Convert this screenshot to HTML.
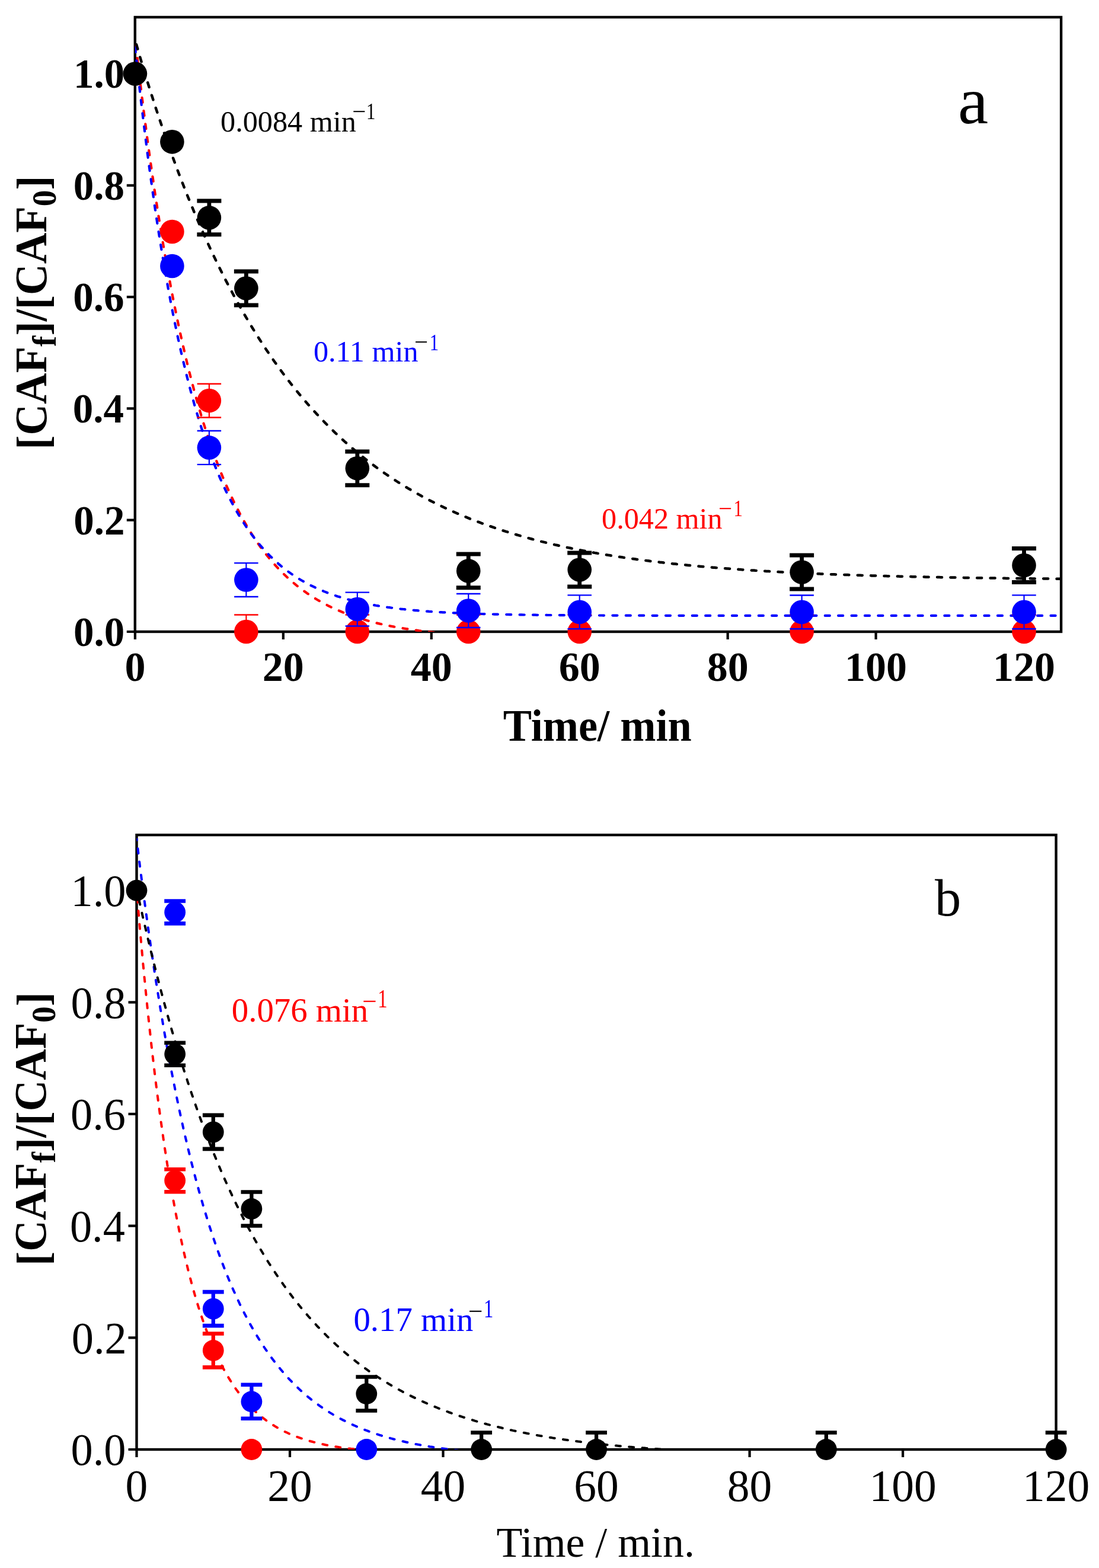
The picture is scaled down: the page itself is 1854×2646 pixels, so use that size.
<!DOCTYPE html>
<html><head><meta charset="utf-8"><title>CAF degradation kinetics</title><style>html,body{margin:0;padding:0;background:#fff;width:1854px;height:2646px;overflow:hidden}svg{display:block}</style></head><body>
<svg width="1854" height="2646" viewBox="0 0 1854 2646">
<defs><clipPath id="ca"><rect x="227.8" y="29.0" width="1562.3" height="1037.0"/></clipPath><clipPath id="cb"><rect x="230.5" y="1409.0" width="1551.1" height="1037.0"/></clipPath></defs>
<rect width="1854" height="2646" fill="#fff"/>
<rect x="227.8" y="29.0" width="1562.30" height="1037.00" fill="none" stroke="#000" stroke-width="4.4"/>
<path d="M213.80 1066.00H227.80M213.80 877.70H227.80M213.80 689.40H227.80M213.80 501.10H227.80M213.80 312.80H227.80M213.80 124.50H227.80M227.90 1066.00V1079.00M477.84 1066.00V1079.00M727.78 1066.00V1079.00M977.72 1066.00V1079.00M1227.66 1066.00V1079.00M1477.60 1066.00V1079.00M1727.54 1066.00V1079.00" stroke="#000" stroke-width="4.2" fill="none"/>
<polyline points="227.9,64.9 230.0,83.4 232.1,101.6 234.2,119.5 236.2,137.0 238.3,154.2 240.4,171.1 242.5,187.7 244.6,204.0 246.7,220.0 248.7,235.7 250.8,251.1 252.9,266.2 255.0,281.1 257.1,295.7 259.2,310.0 261.2,324.0 263.3,337.8 265.4,351.4 267.5,364.7 269.6,377.7 271.7,390.5 273.8,403.1 275.8,415.5 277.9,427.6 280.0,439.5 282.1,451.2 284.2,462.6 286.3,473.9 288.3,485.0 290.4,495.8 292.5,506.5 294.6,516.9 296.7,527.2 298.8,537.3 300.8,547.2 302.9,556.9 305.0,566.4 307.1,575.8 309.2,585.0 311.3,594.0 313.4,602.9 315.4,611.6 317.5,620.1 319.6,628.5 321.7,636.7 323.8,644.8 325.9,652.8 327.9,660.5 330.0,668.2 332.1,675.7 334.2,683.1 336.3,690.3 338.4,697.4 340.4,704.4 342.5,711.2 344.6,717.9 346.7,724.5 348.8,731.0 350.9,737.4 353.0,743.6 355.0,749.7 357.1,755.7 359.2,761.7 361.3,767.4 363.4,773.1 365.5,778.7 367.5,784.2 369.6,789.6 371.7,794.9 373.8,800.1 375.9,805.2 378.0,810.2 380.0,815.1 382.1,819.9 384.2,824.6 386.3,829.3 388.4,833.8 390.5,838.3 392.6,842.7 394.6,847.0 396.7,851.3 398.8,855.4 400.9,859.5 403.0,863.5 405.1,867.5 407.1,871.3 409.2,875.1 411.3,878.8 413.4,882.5 415.5,886.1 417.6,889.6 419.6,893.1 421.7,896.5 423.8,899.8 425.9,903.1 428.0,906.3 430.1,909.4 432.2,912.5 434.2,915.6 436.3,918.6 438.4,921.5 440.5,924.4 442.6,927.2 444.7,930.0 446.7,932.7 448.8,935.3 450.9,938.0 453.0,940.5 455.1,943.1 457.2,945.6 459.2,948.0 461.3,950.4 463.4,952.7 465.5,955.0 467.6,957.3 469.7,959.5 471.8,961.7 473.8,963.8 475.9,965.9 478.0,968.0 480.1,970.0 482.2,972.0 484.3,974.0 486.3,975.9 488.4,977.8 490.5,979.6 492.6,981.4 494.7,983.2 496.8,985.0 498.8,986.7 500.9,988.4 503.0,990.0 505.1,991.6 507.2,993.2 509.3,994.8 511.4,996.3 513.4,997.8 515.5,999.3 517.6,1000.8 519.7,1002.2 521.8,1003.6 523.9,1005.0 525.9,1006.3 528.0,1007.7 530.1,1009.0 532.2,1010.2 534.3,1011.5 536.4,1012.7 538.4,1013.9 540.5,1015.1 542.6,1016.3 544.7,1017.4 546.8,1018.5 548.9,1019.6 551.0,1020.7 553.0,1021.8 555.1,1022.8 557.2,1023.9 559.3,1024.9 561.4,1025.9 563.5,1026.8 565.5,1027.8 567.6,1028.7 569.7,1029.6 571.8,1030.5 573.9,1031.4 576.0,1032.3 578.0,1033.1 580.1,1034.0 582.2,1034.8 584.3,1035.6 586.4,1036.4 588.5,1037.2 590.6,1037.9 592.6,1038.7 594.7,1039.4 596.8,1040.1 598.9,1040.8 601.0,1041.5 603.1,1042.2 605.1,1042.9 607.2,1043.5 609.3,1044.2 611.4,1044.8 613.5,1045.4 615.6,1046.0 617.6,1046.6 619.7,1047.2 621.8,1047.8 623.9,1048.4 626.0,1048.9 628.1,1049.5 630.2,1050.0 632.2,1050.5 634.3,1051.1 636.4,1051.6 638.5,1052.1 640.6,1052.6 642.7,1053.0 644.7,1053.5 646.8,1054.0 648.9,1054.4 651.0,1054.9 653.1,1055.3 655.2,1055.7 657.2,1056.2 659.3,1056.6 661.4,1057.0 663.5,1057.4 665.6,1057.8 667.7,1058.2 669.8,1058.5 671.8,1058.9 673.9,1059.3 676.0,1059.6 678.1,1060.0 680.2,1060.3 682.3,1060.7 684.3,1061.0 686.4,1061.3 688.5,1061.6 690.6,1062.0 692.7,1062.3 694.8,1062.6 696.9,1062.9 698.9,1063.2 701.0,1063.5 703.1,1063.7 705.2,1064.0 707.3,1064.3 709.4,1064.5 711.4,1064.8 713.5,1065.1 715.6,1065.3 717.7,1065.6 719.8,1065.8 721.9,1066.0 723.9,1066.3 726.0,1066.5 728.1,1066.7 730.2,1067.0 732.3,1067.2 734.4,1067.4 736.5,1067.6 738.5,1067.8 740.6,1068.0 742.7,1068.2 744.8,1068.4 746.9,1068.6 749.0,1068.8 751.0,1069.0 753.1,1069.1 755.2,1069.3 757.3,1069.5 759.4,1069.7 761.5,1069.8 763.5,1070.0 765.6,1070.2 767.7,1070.3 769.8,1070.5 771.9,1070.6 774.0,1070.8 776.1,1070.9 778.1,1071.1 780.2,1071.2 782.3,1071.4 784.4,1071.5 786.5,1071.6 788.6,1071.8 790.6,1071.9 792.7,1072.0 794.8,1072.1 796.9,1072.3 799.0,1072.4 801.1,1072.5 803.1,1072.6 805.2,1072.7 807.3,1072.8 809.4,1072.9 811.5,1073.1 813.6,1073.2 815.7,1073.3 817.7,1073.4 819.8,1073.5 821.9,1073.6 824.0,1073.7 826.1,1073.8 828.2,1073.9 830.2,1073.9 832.3,1074.0 834.4,1074.1 836.5,1074.2 838.6,1074.3 840.7,1074.4 842.7,1074.5 844.8,1074.5 846.9,1074.6 849.0,1074.7 851.1,1074.8 853.2,1074.8 855.3,1074.9 857.3,1075.0 859.4,1075.1 861.5,1075.1 863.6,1075.2 865.7,1075.3 867.8,1075.3 869.8,1075.4 871.9,1075.5 874.0,1075.5 876.1,1075.6 878.2,1075.6 880.3,1075.7 882.3,1075.8 884.4,1075.8 886.5,1075.9 888.6,1075.9 890.7,1076.0 892.8,1076.0 894.9,1076.1 896.9,1076.1 899.0,1076.2 901.1,1076.2 903.2,1076.3 905.3,1076.3 907.4,1076.4 909.4,1076.4 911.5,1076.5 913.6,1076.5 915.7,1076.5 917.8,1076.6 919.9,1076.6 921.9,1076.7 924.0,1076.7 926.1,1076.8 928.2,1076.8 930.3,1076.8 932.4,1076.9 934.5,1076.9 936.5,1076.9 938.6,1077.0 940.7,1077.0 942.8,1077.0 944.9,1077.1 947.0,1077.1 949.0,1077.1 951.1,1077.2 953.2,1077.2 955.3,1077.2 957.4,1077.3 959.5,1077.3 961.5,1077.3 963.6,1077.3 965.7,1077.4 967.8,1077.4 969.9,1077.4 972.0,1077.5 974.1,1077.5 976.1,1077.5 978.2,1077.5 980.3,1077.6 982.4,1077.6 984.5,1077.6 986.6,1077.6 988.6,1077.6 990.7,1077.7 992.8,1077.7 994.9,1077.7 997.0,1077.7 999.1,1077.7 1001.1,1077.8 1003.2,1077.8 1005.3,1077.8 1007.4,1077.8 1009.5,1077.8 1011.6,1077.9 1013.7,1077.9 1015.7,1077.9 1017.8,1077.9 1019.9,1077.9 1022.0,1078.0 1024.1,1078.0 1026.2,1078.0 1028.2,1078.0 1030.3,1078.0 1032.4,1078.0 1034.5,1078.0 1036.6,1078.1 1038.7,1078.1 1040.7,1078.1 1042.8,1078.1 1044.9,1078.1 1047.0,1078.1 1049.1,1078.1 1051.2,1078.2 1053.3,1078.2 1055.3,1078.2 1057.4,1078.2 1059.5,1078.2 1061.6,1078.2 1063.7,1078.2 1065.8,1078.2 1067.8,1078.3 1069.9,1078.3 1072.0,1078.3 1074.1,1078.3 1076.2,1078.3 1078.3,1078.3 1080.3,1078.3 1082.4,1078.3 1084.5,1078.3 1086.6,1078.3 1088.7,1078.4 1090.8,1078.4 1092.9,1078.4 1094.9,1078.4 1097.0,1078.4 1099.1,1078.4 1101.2,1078.4 1103.3,1078.4 1105.4,1078.4 1107.4,1078.4 1109.5,1078.4 1111.6,1078.4 1113.7,1078.5 1115.8,1078.5 1117.9,1078.5 1119.9,1078.5 1122.0,1078.5 1124.1,1078.5 1126.2,1078.5 1128.3,1078.5 1130.4,1078.5 1132.5,1078.5 1134.5,1078.5 1136.6,1078.5 1138.7,1078.5 1140.8,1078.5 1142.9,1078.5 1145.0,1078.5 1147.0,1078.6 1149.1,1078.6 1151.2,1078.6 1153.3,1078.6 1155.4,1078.6 1157.5,1078.6 1159.5,1078.6 1161.6,1078.6 1163.7,1078.6 1165.8,1078.6 1167.9,1078.6 1170.0,1078.6 1172.1,1078.6 1174.1,1078.6 1176.2,1078.6 1178.3,1078.6 1180.4,1078.6 1182.5,1078.6 1184.6,1078.6 1186.6,1078.6 1188.7,1078.6 1190.8,1078.6 1192.9,1078.7 1195.0,1078.7 1197.1,1078.7 1199.1,1078.7 1201.2,1078.7 1203.3,1078.7 1205.4,1078.7 1207.5,1078.7 1209.6,1078.7 1211.7,1078.7 1213.7,1078.7 1215.8,1078.7 1217.9,1078.7 1220.0,1078.7 1222.1,1078.7 1224.2,1078.7 1226.2,1078.7 1228.3,1078.7 1230.4,1078.7 1232.5,1078.7 1234.6,1078.7 1236.7,1078.7 1238.7,1078.7 1240.8,1078.7 1242.9,1078.7 1245.0,1078.7 1247.1,1078.7 1249.2,1078.7 1251.3,1078.7 1253.3,1078.7 1255.4,1078.7 1257.5,1078.7 1259.6,1078.7 1261.7,1078.7 1263.8,1078.7 1265.8,1078.7 1267.9,1078.7 1270.0,1078.8 1272.1,1078.8 1274.2,1078.8 1276.3,1078.8 1278.3,1078.8 1280.4,1078.8 1282.5,1078.8 1284.6,1078.8 1286.7,1078.8 1288.8,1078.8 1290.9,1078.8 1292.9,1078.8 1295.0,1078.8 1297.1,1078.8 1299.2,1078.8 1301.3,1078.8 1303.4,1078.8 1305.4,1078.8 1307.5,1078.8 1309.6,1078.8 1311.7,1078.8 1313.8,1078.8 1315.9,1078.8 1317.9,1078.8 1320.0,1078.8 1322.1,1078.8 1324.2,1078.8 1326.3,1078.8 1328.4,1078.8 1330.5,1078.8 1332.5,1078.8 1334.6,1078.8 1336.7,1078.8 1338.8,1078.8 1340.9,1078.8 1343.0,1078.8 1345.0,1078.8 1347.1,1078.8 1349.2,1078.8 1351.3,1078.8 1353.4,1078.8 1355.5,1078.8 1357.5,1078.8 1359.6,1078.8 1361.7,1078.8 1363.8,1078.8 1365.9,1078.8 1368.0,1078.8 1370.1,1078.8 1372.1,1078.8 1374.2,1078.8 1376.3,1078.8 1378.4,1078.8 1380.5,1078.8 1382.6,1078.8 1384.6,1078.8 1386.7,1078.8 1388.8,1078.8 1390.9,1078.8 1393.0,1078.8 1395.1,1078.8 1397.1,1078.8 1399.2,1078.8 1401.3,1078.8 1403.4,1078.8 1405.5,1078.8 1407.6,1078.8 1409.7,1078.8 1411.7,1078.8 1413.8,1078.8 1415.9,1078.8 1418.0,1078.8 1420.1,1078.8 1422.2,1078.8 1424.2,1078.8 1426.3,1078.8 1428.4,1078.8 1430.5,1078.8 1432.6,1078.8 1434.7,1078.8 1436.7,1078.8 1438.8,1078.8 1440.9,1078.8 1443.0,1078.8 1445.1,1078.8 1447.2,1078.8 1449.3,1078.8 1451.3,1078.8 1453.4,1078.8 1455.5,1078.8 1457.6,1078.8 1459.7,1078.8 1461.8,1078.8 1463.8,1078.8 1465.9,1078.8 1468.0,1078.8 1470.1,1078.8 1472.2,1078.8 1474.3,1078.8 1476.3,1078.8 1478.4,1078.8 1480.5,1078.8 1482.6,1078.8 1484.7,1078.8 1486.8,1078.8 1488.9,1078.8 1490.9,1078.8 1493.0,1078.8 1495.1,1078.8 1497.2,1078.8 1499.3,1078.8 1501.4,1078.8 1503.4,1078.8 1505.5,1078.8 1507.6,1078.8 1509.7,1078.8 1511.8,1078.8 1513.9,1078.8 1515.9,1078.8 1518.0,1078.8 1520.1,1078.8 1522.2,1078.8 1524.3,1078.8 1526.4,1078.8 1528.5,1078.8 1530.5,1078.8 1532.6,1078.8 1534.7,1078.8 1536.8,1078.8 1538.9,1078.8 1541.0,1078.8 1543.0,1078.8 1545.1,1078.8 1547.2,1078.8 1549.3,1078.8 1551.4,1078.8 1553.5,1078.8 1555.5,1078.8 1557.6,1078.8 1559.7,1078.8 1561.8,1078.8 1563.9,1078.8 1566.0,1078.8 1568.1,1078.8 1570.1,1078.8 1572.2,1078.8 1574.3,1078.8 1576.4,1078.8 1578.5,1078.8 1580.6,1078.8 1582.6,1078.8 1584.7,1078.8 1586.8,1078.8 1588.9,1078.8 1591.0,1078.8 1593.1,1078.8 1595.2,1078.8 1597.2,1078.8 1599.3,1078.8 1601.4,1078.8 1603.5,1078.8 1605.6,1078.8 1607.7,1078.8 1609.7,1078.8 1611.8,1078.8 1613.9,1078.8 1616.0,1078.8 1618.1,1078.8 1620.2,1078.8 1622.2,1078.8 1624.3,1078.8 1626.4,1078.8 1628.5,1078.8 1630.6,1078.8 1632.7,1078.8 1634.8,1078.8 1636.8,1078.8 1638.9,1078.8 1641.0,1078.8 1643.1,1078.8 1645.2,1078.8 1647.3,1078.8 1649.3,1078.8 1651.4,1078.8 1653.5,1078.8 1655.6,1078.8 1657.7,1078.8 1659.8,1078.8 1661.8,1078.8 1663.9,1078.8 1666.0,1078.8 1668.1,1078.8 1670.2,1078.8 1672.3,1078.8 1674.4,1078.8 1676.4,1078.8 1678.5,1078.8 1680.6,1078.8 1682.7,1078.8 1684.8,1078.8 1686.9,1078.8 1688.9,1078.8 1691.0,1078.8 1693.1,1078.8 1695.2,1078.8 1697.3,1078.8 1699.4,1078.8 1701.4,1078.8 1703.5,1078.8 1705.6,1078.8 1707.7,1078.8 1709.8,1078.8 1711.9,1078.8 1714.0,1078.8 1716.0,1078.8 1718.1,1078.8 1720.2,1078.8 1722.3,1078.8 1724.4,1078.8 1726.5,1078.8 1728.5,1078.8 1730.6,1078.8 1732.7,1078.8 1734.8,1078.8 1736.9,1078.8 1739.0,1078.8 1741.0,1078.8 1743.1,1078.8 1745.2,1078.8 1747.3,1078.9 1749.4,1078.9 1751.5,1078.9 1753.6,1078.9 1755.6,1078.9 1757.7,1078.9 1759.8,1078.9 1761.9,1078.9 1764.0,1078.9 1766.1,1078.9 1768.1,1078.9 1770.2,1078.9 1772.3,1078.9 1774.4,1078.9 1776.5,1078.9 1778.6,1078.9 1780.6,1078.9 1782.7,1078.9 1784.8,1078.9 1786.9,1078.9 1789.0,1078.9" fill="none" stroke="#ff0000" stroke-width="4.2" stroke-dasharray="8 14.4" stroke-dashoffset="11.30" stroke-linecap="round" clip-path="url(#ca)"/>
<polyline points="227.9,79.7 230.0,99.3 232.1,118.4 234.2,137.2 236.2,155.6 238.3,173.7 240.4,191.3 242.5,208.6 244.6,225.6 246.7,242.2 248.7,258.5 250.8,274.4 252.9,290.0 255.0,305.3 257.1,320.3 259.2,334.9 261.2,349.3 263.3,363.4 265.4,377.2 267.5,390.7 269.6,403.9 271.7,416.9 273.8,429.6 275.8,442.0 277.9,454.2 280.0,466.1 282.1,477.8 284.2,489.3 286.3,500.5 288.3,511.5 290.4,522.3 292.5,532.8 294.6,543.2 296.7,553.3 298.8,563.2 300.8,572.9 302.9,582.4 305.0,591.7 307.1,600.9 309.2,609.8 311.3,618.6 313.4,627.2 315.4,635.6 317.5,643.8 319.6,651.9 321.7,659.8 323.8,667.5 325.9,675.1 327.9,682.5 330.0,689.8 332.1,696.9 334.2,703.9 336.3,710.7 338.4,717.4 340.4,724.0 342.5,730.4 344.6,736.7 346.7,742.9 348.8,748.9 350.9,754.9 353.0,760.7 355.0,766.3 357.1,771.9 359.2,777.4 361.3,782.7 363.4,787.9 365.5,793.1 367.5,798.1 369.6,803.0 371.7,807.8 373.8,812.5 375.9,817.1 378.0,821.7 380.0,826.1 382.1,830.5 384.2,834.7 386.3,838.9 388.4,843.0 390.5,847.0 392.6,850.9 394.6,854.7 396.7,858.5 398.8,862.2 400.9,865.8 403.0,869.3 405.1,872.8 407.1,876.2 409.2,879.5 411.3,882.7 413.4,885.9 415.5,889.1 417.6,892.1 419.6,895.1 421.7,898.0 423.8,900.9 425.9,903.7 428.0,906.5 430.1,909.2 432.2,911.9 434.2,914.4 436.3,917.0 438.4,919.5 440.5,921.9 442.6,924.3 444.7,926.6 446.7,928.9 448.8,931.2 450.9,933.4 453.0,935.5 455.1,937.7 457.2,939.7 459.2,941.7 461.3,943.7 463.4,945.7 465.5,947.6 467.6,949.4 469.7,951.3 471.8,953.1 473.8,954.8 475.9,956.5 478.0,958.2 480.1,959.9 482.2,961.5 484.3,963.1 486.3,964.6 488.4,966.1 490.5,967.6 492.6,969.1 494.7,970.5 496.8,971.9 498.8,973.3 500.9,974.6 503.0,975.9 505.1,977.2 507.2,978.5 509.3,979.7 511.4,980.9 513.4,982.1 515.5,983.2 517.6,984.4 519.7,985.5 521.8,986.6 523.9,987.7 525.9,988.7 528.0,989.7 530.1,990.7 532.2,991.7 534.3,992.7 536.4,993.6 538.4,994.6 540.5,995.5 542.6,996.3 544.7,997.2 546.8,998.1 548.9,998.9 551.0,999.7 553.0,1000.5 555.1,1001.3 557.2,1002.1 559.3,1002.8 561.4,1003.6 563.5,1004.3 565.5,1005.0 567.6,1005.7 569.7,1006.4 571.8,1007.0 573.9,1007.7 576.0,1008.3 578.0,1008.9 580.1,1009.6 582.2,1010.2 584.3,1010.7 586.4,1011.3 588.5,1011.9 590.6,1012.4 592.6,1013.0 594.7,1013.5 596.8,1014.0 598.9,1014.5 601.0,1015.0 603.1,1015.5 605.1,1016.0 607.2,1016.5 609.3,1016.9 611.4,1017.4 613.5,1017.8 615.6,1018.2 617.6,1018.7 619.7,1019.1 621.8,1019.5 623.9,1019.9 626.0,1020.3 628.1,1020.7 630.2,1021.0 632.2,1021.4 634.3,1021.8 636.4,1022.1 638.5,1022.4 640.6,1022.8 642.7,1023.1 644.7,1023.4 646.8,1023.8 648.9,1024.1 651.0,1024.4 653.1,1024.7 655.2,1025.0 657.2,1025.2 659.3,1025.5 661.4,1025.8 663.5,1026.1 665.6,1026.3 667.7,1026.6 669.8,1026.8 671.8,1027.1 673.9,1027.3 676.0,1027.6 678.1,1027.8 680.2,1028.0 682.3,1028.2 684.3,1028.5 686.4,1028.7 688.5,1028.9 690.6,1029.1 692.7,1029.3 694.8,1029.5 696.9,1029.7 698.9,1029.9 701.0,1030.1 703.1,1030.2 705.2,1030.4 707.3,1030.6 709.4,1030.8 711.4,1030.9 713.5,1031.1 715.6,1031.3 717.7,1031.4 719.8,1031.6 721.9,1031.7 723.9,1031.9 726.0,1032.0 728.1,1032.1 730.2,1032.3 732.3,1032.4 734.4,1032.6 736.5,1032.7 738.5,1032.8 740.6,1032.9 742.7,1033.1 744.8,1033.2 746.9,1033.3 749.0,1033.4 751.0,1033.5 753.1,1033.6 755.2,1033.7 757.3,1033.9 759.4,1034.0 761.5,1034.1 763.5,1034.2 765.6,1034.3 767.7,1034.3 769.8,1034.4 771.9,1034.5 774.0,1034.6 776.1,1034.7 778.1,1034.8 780.2,1034.9 782.3,1035.0 784.4,1035.0 786.5,1035.1 788.6,1035.2 790.6,1035.3 792.7,1035.4 794.8,1035.4 796.9,1035.5 799.0,1035.6 801.1,1035.6 803.1,1035.7 805.2,1035.8 807.3,1035.8 809.4,1035.9 811.5,1036.0 813.6,1036.0 815.7,1036.1 817.7,1036.1 819.8,1036.2 821.9,1036.3 824.0,1036.3 826.1,1036.4 828.2,1036.4 830.2,1036.5 832.3,1036.5 834.4,1036.6 836.5,1036.6 838.6,1036.7 840.7,1036.7 842.7,1036.8 844.8,1036.8 846.9,1036.8 849.0,1036.9 851.1,1036.9 853.2,1037.0 855.3,1037.0 857.3,1037.0 859.4,1037.1 861.5,1037.1 863.6,1037.2 865.7,1037.2 867.8,1037.2 869.8,1037.3 871.9,1037.3 874.0,1037.3 876.1,1037.4 878.2,1037.4 880.3,1037.4 882.3,1037.5 884.4,1037.5 886.5,1037.5 888.6,1037.6 890.7,1037.6 892.8,1037.6 894.9,1037.6 896.9,1037.7 899.0,1037.7 901.1,1037.7 903.2,1037.7 905.3,1037.8 907.4,1037.8 909.4,1037.8 911.5,1037.8 913.6,1037.9 915.7,1037.9 917.8,1037.9 919.9,1037.9 921.9,1037.9 924.0,1038.0 926.1,1038.0 928.2,1038.0 930.3,1038.0 932.4,1038.0 934.5,1038.1 936.5,1038.1 938.6,1038.1 940.7,1038.1 942.8,1038.1 944.9,1038.1 947.0,1038.2 949.0,1038.2 951.1,1038.2 953.2,1038.2 955.3,1038.2 957.4,1038.2 959.5,1038.3 961.5,1038.3 963.6,1038.3 965.7,1038.3 967.8,1038.3 969.9,1038.3 972.0,1038.3 974.1,1038.3 976.1,1038.4 978.2,1038.4 980.3,1038.4 982.4,1038.4 984.5,1038.4 986.6,1038.4 988.6,1038.4 990.7,1038.4 992.8,1038.4 994.9,1038.5 997.0,1038.5 999.1,1038.5 1001.1,1038.5 1003.2,1038.5 1005.3,1038.5 1007.4,1038.5 1009.5,1038.5 1011.6,1038.5 1013.7,1038.5 1015.7,1038.5 1017.8,1038.6 1019.9,1038.6 1022.0,1038.6 1024.1,1038.6 1026.2,1038.6 1028.2,1038.6 1030.3,1038.6 1032.4,1038.6 1034.5,1038.6 1036.6,1038.6 1038.7,1038.6 1040.7,1038.6 1042.8,1038.6 1044.9,1038.6 1047.0,1038.7 1049.1,1038.7 1051.2,1038.7 1053.3,1038.7 1055.3,1038.7 1057.4,1038.7 1059.5,1038.7 1061.6,1038.7 1063.7,1038.7 1065.8,1038.7 1067.8,1038.7 1069.9,1038.7 1072.0,1038.7 1074.1,1038.7 1076.2,1038.7 1078.3,1038.7 1080.3,1038.7 1082.4,1038.7 1084.5,1038.7 1086.6,1038.7 1088.7,1038.7 1090.8,1038.8 1092.9,1038.8 1094.9,1038.8 1097.0,1038.8 1099.1,1038.8 1101.2,1038.8 1103.3,1038.8 1105.4,1038.8 1107.4,1038.8 1109.5,1038.8 1111.6,1038.8 1113.7,1038.8 1115.8,1038.8 1117.9,1038.8 1119.9,1038.8 1122.0,1038.8 1124.1,1038.8 1126.2,1038.8 1128.3,1038.8 1130.4,1038.8 1132.5,1038.8 1134.5,1038.8 1136.6,1038.8 1138.7,1038.8 1140.8,1038.8 1142.9,1038.8 1145.0,1038.8 1147.0,1038.8 1149.1,1038.8 1151.2,1038.8 1153.3,1038.8 1155.4,1038.8 1157.5,1038.8 1159.5,1038.8 1161.6,1038.8 1163.7,1038.9 1165.8,1038.9 1167.9,1038.9 1170.0,1038.9 1172.1,1038.9 1174.1,1038.9 1176.2,1038.9 1178.3,1038.9 1180.4,1038.9 1182.5,1038.9 1184.6,1038.9 1186.6,1038.9 1188.7,1038.9 1190.8,1038.9 1192.9,1038.9 1195.0,1038.9 1197.1,1038.9 1199.1,1038.9 1201.2,1038.9 1203.3,1038.9 1205.4,1038.9 1207.5,1038.9 1209.6,1038.9 1211.7,1038.9 1213.7,1038.9 1215.8,1038.9 1217.9,1038.9 1220.0,1038.9 1222.1,1038.9 1224.2,1038.9 1226.2,1038.9 1228.3,1038.9 1230.4,1038.9 1232.5,1038.9 1234.6,1038.9 1236.7,1038.9 1238.7,1038.9 1240.8,1038.9 1242.9,1038.9 1245.0,1038.9 1247.1,1038.9 1249.2,1038.9 1251.3,1038.9 1253.3,1038.9 1255.4,1038.9 1257.5,1038.9 1259.6,1038.9 1261.7,1038.9 1263.8,1038.9 1265.8,1038.9 1267.9,1038.9 1270.0,1038.9 1272.1,1038.9 1274.2,1038.9 1276.3,1038.9 1278.3,1038.9 1280.4,1038.9 1282.5,1038.9 1284.6,1038.9 1286.7,1038.9 1288.8,1038.9 1290.9,1038.9 1292.9,1038.9 1295.0,1038.9 1297.1,1038.9 1299.2,1038.9 1301.3,1038.9 1303.4,1038.9 1305.4,1038.9 1307.5,1038.9 1309.6,1038.9 1311.7,1038.9 1313.8,1038.9 1315.9,1038.9 1317.9,1038.9 1320.0,1038.9 1322.1,1038.9 1324.2,1038.9 1326.3,1038.9 1328.4,1038.9 1330.5,1038.9 1332.5,1038.9 1334.6,1038.9 1336.7,1038.9 1338.8,1038.9 1340.9,1038.9 1343.0,1038.9 1345.0,1038.9 1347.1,1038.9 1349.2,1038.9 1351.3,1038.9 1353.4,1038.9 1355.5,1038.9 1357.5,1038.9 1359.6,1038.9 1361.7,1038.9 1363.8,1038.9 1365.9,1038.9 1368.0,1038.9 1370.1,1038.9 1372.1,1038.9 1374.2,1038.9 1376.3,1038.9 1378.4,1038.9 1380.5,1038.9 1382.6,1038.9 1384.6,1038.9 1386.7,1038.9 1388.8,1038.9 1390.9,1038.9 1393.0,1038.9 1395.1,1038.9 1397.1,1038.9 1399.2,1038.9 1401.3,1038.9 1403.4,1038.9 1405.5,1038.9 1407.6,1038.9 1409.7,1038.9 1411.7,1038.9 1413.8,1038.9 1415.9,1038.9 1418.0,1038.9 1420.1,1038.9 1422.2,1038.9 1424.2,1038.9 1426.3,1038.9 1428.4,1038.9 1430.5,1038.9 1432.6,1038.9 1434.7,1038.9 1436.7,1038.9 1438.8,1038.9 1440.9,1038.9 1443.0,1038.9 1445.1,1038.9 1447.2,1038.9 1449.3,1038.9 1451.3,1038.9 1453.4,1038.9 1455.5,1038.9 1457.6,1038.9 1459.7,1038.9 1461.8,1038.9 1463.8,1038.9 1465.9,1038.9 1468.0,1038.9 1470.1,1038.9 1472.2,1038.9 1474.3,1038.9 1476.3,1038.9 1478.4,1038.9 1480.5,1038.9 1482.6,1038.9 1484.7,1038.9 1486.8,1038.9 1488.9,1038.9 1490.9,1038.9 1493.0,1038.9 1495.1,1038.9 1497.2,1038.9 1499.3,1038.9 1501.4,1038.9 1503.4,1038.9 1505.5,1038.9 1507.6,1038.9 1509.7,1038.9 1511.8,1038.9 1513.9,1038.9 1515.9,1038.9 1518.0,1038.9 1520.1,1038.9 1522.2,1038.9 1524.3,1038.9 1526.4,1038.9 1528.5,1038.9 1530.5,1038.9 1532.6,1038.9 1534.7,1038.9 1536.8,1038.9 1538.9,1038.9 1541.0,1038.9 1543.0,1038.9 1545.1,1038.9 1547.2,1038.9 1549.3,1038.9 1551.4,1038.9 1553.5,1038.9 1555.5,1038.9 1557.6,1038.9 1559.7,1038.9 1561.8,1038.9 1563.9,1038.9 1566.0,1038.9 1568.1,1038.9 1570.1,1038.9 1572.2,1038.9 1574.3,1038.9 1576.4,1038.9 1578.5,1038.9 1580.6,1038.9 1582.6,1038.9 1584.7,1038.9 1586.8,1038.9 1588.9,1038.9 1591.0,1038.9 1593.1,1038.9 1595.2,1038.9 1597.2,1038.9 1599.3,1038.9 1601.4,1038.9 1603.5,1038.9 1605.6,1038.9 1607.7,1038.9 1609.7,1038.9 1611.8,1038.9 1613.9,1038.9 1616.0,1038.9 1618.1,1038.9 1620.2,1038.9 1622.2,1038.9 1624.3,1038.9 1626.4,1038.9 1628.5,1038.9 1630.6,1038.9 1632.7,1038.9 1634.8,1038.9 1636.8,1038.9 1638.9,1038.9 1641.0,1038.9 1643.1,1038.9 1645.2,1038.9 1647.3,1038.9 1649.3,1038.9 1651.4,1038.9 1653.5,1038.9 1655.6,1038.9 1657.7,1038.9 1659.8,1038.9 1661.8,1038.9 1663.9,1038.9 1666.0,1038.9 1668.1,1038.9 1670.2,1038.9 1672.3,1038.9 1674.4,1038.9 1676.4,1038.9 1678.5,1038.9 1680.6,1038.9 1682.7,1038.9 1684.8,1038.9 1686.9,1038.9 1688.9,1038.9 1691.0,1038.9 1693.1,1038.9 1695.2,1038.9 1697.3,1038.9 1699.4,1038.9 1701.4,1038.9 1703.5,1038.9 1705.6,1038.9 1707.7,1038.9 1709.8,1038.9 1711.9,1038.9 1714.0,1038.9 1716.0,1038.9 1718.1,1038.9 1720.2,1038.9 1722.3,1038.9 1724.4,1038.9 1726.5,1038.9 1728.5,1038.9 1730.6,1038.9 1732.7,1038.9 1734.8,1038.9 1736.9,1038.9 1739.0,1038.9 1741.0,1038.9 1743.1,1038.9 1745.2,1038.9 1747.3,1038.9 1749.4,1038.9 1751.5,1038.9 1753.6,1038.9 1755.6,1038.9 1757.7,1038.9 1759.8,1038.9 1761.9,1038.9 1764.0,1038.9 1766.1,1038.9 1768.1,1038.9 1770.2,1038.9 1772.3,1038.9 1774.4,1038.9 1776.5,1038.9 1778.6,1038.9 1780.6,1038.9 1782.7,1038.9 1784.8,1038.9 1786.9,1038.9 1789.0,1038.9" fill="none" stroke="#0000ff" stroke-width="4.2" stroke-dasharray="8 14.4" stroke-dashoffset="22.09" stroke-linecap="round" clip-path="url(#ca)"/>
<polyline points="227.9,67.5 230.0,74.8 232.1,82.0 234.2,89.2 236.2,96.3 238.3,103.4 240.4,110.3 242.5,117.3 244.6,124.2 246.7,131.0 248.7,137.8 250.8,144.5 252.9,151.1 255.0,157.8 257.1,164.3 259.2,170.8 261.2,177.3 263.3,183.7 265.4,190.0 267.5,196.3 269.6,202.6 271.7,208.8 273.8,214.9 275.8,221.0 277.9,227.1 280.0,233.1 282.1,239.0 284.2,245.0 286.3,250.8 288.3,256.6 290.4,262.4 292.5,268.1 294.6,273.8 296.7,279.4 298.8,285.0 300.8,290.6 302.9,296.1 305.0,301.5 307.1,306.9 309.2,312.3 311.3,317.6 313.4,322.9 315.4,328.1 317.5,333.3 319.6,338.5 321.7,343.6 323.8,348.7 325.9,353.7 327.9,358.7 330.0,363.7 332.1,368.6 334.2,373.4 336.3,378.3 338.4,383.1 340.4,387.8 342.5,392.6 344.6,397.2 346.7,401.9 348.8,406.5 350.9,411.1 353.0,415.6 355.0,420.1 357.1,424.6 359.2,429.0 361.3,433.4 363.4,437.7 365.5,442.1 367.5,446.4 369.6,450.6 371.7,454.8 373.8,459.0 375.9,463.2 378.0,467.3 380.0,471.4 382.1,475.4 384.2,479.4 386.3,483.4 388.4,487.4 390.5,491.3 392.6,495.2 394.6,499.1 396.7,502.9 398.8,506.7 400.9,510.5 403.0,514.2 405.1,517.9 407.1,521.6 409.2,525.3 411.3,528.9 413.4,532.5 415.5,536.1 417.6,539.6 419.6,543.1 421.7,546.6 423.8,550.0 425.9,553.5 428.0,556.9 430.1,560.2 432.2,563.6 434.2,566.9 436.3,570.2 438.4,573.4 440.5,576.7 442.6,579.9 444.7,583.1 446.7,586.3 448.8,589.4 450.9,592.5 453.0,595.6 455.1,598.6 457.2,601.7 459.2,604.7 461.3,607.7 463.4,610.7 465.5,613.6 467.6,616.5 469.7,619.4 471.8,622.3 473.8,625.1 475.9,628.0 478.0,630.8 480.1,633.5 482.2,636.3 484.3,639.0 486.3,641.8 488.4,644.4 490.5,647.1 492.6,649.8 494.7,652.4 496.8,655.0 498.8,657.6 500.9,660.2 503.0,662.7 505.1,665.2 507.2,667.7 509.3,670.2 511.4,672.7 513.4,675.1 515.5,677.6 517.6,680.0 519.7,682.4 521.8,684.7 523.9,687.1 525.9,689.4 528.0,691.7 530.1,694.0 532.2,696.3 534.3,698.6 536.4,700.8 538.4,703.0 540.5,705.2 542.6,707.4 544.7,709.6 546.8,711.7 548.9,713.9 551.0,716.0 553.0,718.1 555.1,720.2 557.2,722.2 559.3,724.3 561.4,726.3 563.5,728.3 565.5,730.3 567.6,732.3 569.7,734.3 571.8,736.2 573.9,738.2 576.0,740.1 578.0,742.0 580.1,743.9 582.2,745.8 584.3,747.6 586.4,749.5 588.5,751.3 590.6,753.1 592.6,755.0 594.7,756.7 596.8,758.5 598.9,760.3 601.0,762.0 603.1,763.8 605.1,765.5 607.2,767.2 609.3,768.9 611.4,770.6 613.5,772.2 615.6,773.9 617.6,775.5 619.7,777.1 621.8,778.7 623.9,780.3 626.0,781.9 628.1,783.5 630.2,785.1 632.2,786.6 634.3,788.2 636.4,789.7 638.5,791.2 640.6,792.7 642.7,794.2 644.7,795.7 646.8,797.1 648.9,798.6 651.0,800.0 653.1,801.4 655.2,802.9 657.2,804.3 659.3,805.7 661.4,807.0 663.5,808.4 665.6,809.8 667.7,811.1 669.8,812.5 671.8,813.8 673.9,815.1 676.0,816.4 678.1,817.7 680.2,819.0 682.3,820.3 684.3,821.6 686.4,822.8 688.5,824.1 690.6,825.3 692.7,826.5 694.8,827.8 696.9,829.0 698.9,830.2 701.0,831.4 703.1,832.5 705.2,833.7 707.3,834.9 709.4,836.0 711.4,837.2 713.5,838.3 715.6,839.4 717.7,840.5 719.8,841.6 721.9,842.7 723.9,843.8 726.0,844.9 728.1,846.0 730.2,847.0 732.3,848.1 734.4,849.1 736.5,850.2 738.5,851.2 740.6,852.2 742.7,853.2 744.8,854.2 746.9,855.2 749.0,856.2 751.0,857.2 753.1,858.2 755.2,859.1 757.3,860.1 759.4,861.1 761.5,862.0 763.5,862.9 765.6,863.9 767.7,864.8 769.8,865.7 771.9,866.6 774.0,867.5 776.1,868.4 778.1,869.3 780.2,870.1 782.3,871.0 784.4,871.9 786.5,872.7 788.6,873.6 790.6,874.4 792.7,875.3 794.8,876.1 796.9,876.9 799.0,877.7 801.1,878.5 803.1,879.3 805.2,880.1 807.3,880.9 809.4,881.7 811.5,882.5 813.6,883.3 815.7,884.0 817.7,884.8 819.8,885.5 821.9,886.3 824.0,887.0 826.1,887.8 828.2,888.5 830.2,889.2 832.3,889.9 834.4,890.6 836.5,891.3 838.6,892.0 840.7,892.7 842.7,893.4 844.8,894.1 846.9,894.8 849.0,895.5 851.1,896.1 853.2,896.8 855.3,897.4 857.3,898.1 859.4,898.7 861.5,899.4 863.6,900.0 865.7,900.7 867.8,901.3 869.8,901.9 871.9,902.5 874.0,903.1 876.1,903.7 878.2,904.3 880.3,904.9 882.3,905.5 884.4,906.1 886.5,906.7 888.6,907.3 890.7,907.8 892.8,908.4 894.9,909.0 896.9,909.5 899.0,910.1 901.1,910.6 903.2,911.2 905.3,911.7 907.4,912.3 909.4,912.8 911.5,913.3 913.6,913.9 915.7,914.4 917.8,914.9 919.9,915.4 921.9,915.9 924.0,916.4 926.1,916.9 928.2,917.4 930.3,917.9 932.4,918.4 934.5,918.9 936.5,919.4 938.6,919.8 940.7,920.3 942.8,920.8 944.9,921.2 947.0,921.7 949.0,922.2 951.1,922.6 953.2,923.1 955.3,923.5 957.4,924.0 959.5,924.4 961.5,924.8 963.6,925.3 965.7,925.7 967.8,926.1 969.9,926.5 972.0,927.0 974.1,927.4 976.1,927.8 978.2,928.2 980.3,928.6 982.4,929.0 984.5,929.4 986.6,929.8 988.6,930.2 990.7,930.6 992.8,931.0 994.9,931.4 997.0,931.7 999.1,932.1 1001.1,932.5 1003.2,932.9 1005.3,933.2 1007.4,933.6 1009.5,934.0 1011.6,934.3 1013.7,934.7 1015.7,935.0 1017.8,935.4 1019.9,935.7 1022.0,936.1 1024.1,936.4 1026.2,936.8 1028.2,937.1 1030.3,937.4 1032.4,937.8 1034.5,938.1 1036.6,938.4 1038.7,938.8 1040.7,939.1 1042.8,939.4 1044.9,939.7 1047.0,940.0 1049.1,940.3 1051.2,940.6 1053.3,941.0 1055.3,941.3 1057.4,941.6 1059.5,941.9 1061.6,942.2 1063.7,942.5 1065.8,942.7 1067.8,943.0 1069.9,943.3 1072.0,943.6 1074.1,943.9 1076.2,944.2 1078.3,944.5 1080.3,944.7 1082.4,945.0 1084.5,945.3 1086.6,945.5 1088.7,945.8 1090.8,946.1 1092.9,946.3 1094.9,946.6 1097.0,946.9 1099.1,947.1 1101.2,947.4 1103.3,947.6 1105.4,947.9 1107.4,948.1 1109.5,948.4 1111.6,948.6 1113.7,948.9 1115.8,949.1 1117.9,949.3 1119.9,949.6 1122.0,949.8 1124.1,950.0 1126.2,950.3 1128.3,950.5 1130.4,950.7 1132.5,951.0 1134.5,951.2 1136.6,951.4 1138.7,951.6 1140.8,951.8 1142.9,952.1 1145.0,952.3 1147.0,952.5 1149.1,952.7 1151.2,952.9 1153.3,953.1 1155.4,953.3 1157.5,953.5 1159.5,953.7 1161.6,953.9 1163.7,954.1 1165.8,954.3 1167.9,954.5 1170.0,954.7 1172.1,954.9 1174.1,955.1 1176.2,955.3 1178.3,955.5 1180.4,955.7 1182.5,955.9 1184.6,956.1 1186.6,956.2 1188.7,956.4 1190.8,956.6 1192.9,956.8 1195.0,957.0 1197.1,957.1 1199.1,957.3 1201.2,957.5 1203.3,957.7 1205.4,957.8 1207.5,958.0 1209.6,958.2 1211.7,958.3 1213.7,958.5 1215.8,958.7 1217.9,958.8 1220.0,959.0 1222.1,959.2 1224.2,959.3 1226.2,959.5 1228.3,959.6 1230.4,959.8 1232.5,959.9 1234.6,960.1 1236.7,960.2 1238.7,960.4 1240.8,960.5 1242.9,960.7 1245.0,960.8 1247.1,961.0 1249.2,961.1 1251.3,961.3 1253.3,961.4 1255.4,961.6 1257.5,961.7 1259.6,961.8 1261.7,962.0 1263.8,962.1 1265.8,962.2 1267.9,962.4 1270.0,962.5 1272.1,962.6 1274.2,962.8 1276.3,962.9 1278.3,963.0 1280.4,963.2 1282.5,963.3 1284.6,963.4 1286.7,963.5 1288.8,963.7 1290.9,963.8 1292.9,963.9 1295.0,964.0 1297.1,964.1 1299.2,964.3 1301.3,964.4 1303.4,964.5 1305.4,964.6 1307.5,964.7 1309.6,964.8 1311.7,965.0 1313.8,965.1 1315.9,965.2 1317.9,965.3 1320.0,965.4 1322.1,965.5 1324.2,965.6 1326.3,965.7 1328.4,965.8 1330.5,965.9 1332.5,966.0 1334.6,966.2 1336.7,966.3 1338.8,966.4 1340.9,966.5 1343.0,966.6 1345.0,966.7 1347.1,966.8 1349.2,966.9 1351.3,967.0 1353.4,967.0 1355.5,967.1 1357.5,967.2 1359.6,967.3 1361.7,967.4 1363.8,967.5 1365.9,967.6 1368.0,967.7 1370.1,967.8 1372.1,967.9 1374.2,968.0 1376.3,968.1 1378.4,968.2 1380.5,968.2 1382.6,968.3 1384.6,968.4 1386.7,968.5 1388.8,968.6 1390.9,968.7 1393.0,968.7 1395.1,968.8 1397.1,968.9 1399.2,969.0 1401.3,969.1 1403.4,969.2 1405.5,969.2 1407.6,969.3 1409.7,969.4 1411.7,969.5 1413.8,969.5 1415.9,969.6 1418.0,969.7 1420.1,969.8 1422.2,969.8 1424.2,969.9 1426.3,970.0 1428.4,970.1 1430.5,970.1 1432.6,970.2 1434.7,970.3 1436.7,970.3 1438.8,970.4 1440.9,970.5 1443.0,970.6 1445.1,970.6 1447.2,970.7 1449.3,970.8 1451.3,970.8 1453.4,970.9 1455.5,971.0 1457.6,971.0 1459.7,971.1 1461.8,971.1 1463.8,971.2 1465.9,971.3 1468.0,971.3 1470.1,971.4 1472.2,971.5 1474.3,971.5 1476.3,971.6 1478.4,971.6 1480.5,971.7 1482.6,971.8 1484.7,971.8 1486.8,971.9 1488.9,971.9 1490.9,972.0 1493.0,972.0 1495.1,972.1 1497.2,972.2 1499.3,972.2 1501.4,972.3 1503.4,972.3 1505.5,972.4 1507.6,972.4 1509.7,972.5 1511.8,972.5 1513.9,972.6 1515.9,972.6 1518.0,972.7 1520.1,972.7 1522.2,972.8 1524.3,972.8 1526.4,972.9 1528.5,972.9 1530.5,973.0 1532.6,973.0 1534.7,973.1 1536.8,973.1 1538.9,973.2 1541.0,973.2 1543.0,973.3 1545.1,973.3 1547.2,973.4 1549.3,973.4 1551.4,973.5 1553.5,973.5 1555.5,973.5 1557.6,973.6 1559.7,973.6 1561.8,973.7 1563.9,973.7 1566.0,973.8 1568.1,973.8 1570.1,973.8 1572.2,973.9 1574.3,973.9 1576.4,974.0 1578.5,974.0 1580.6,974.0 1582.6,974.1 1584.7,974.1 1586.8,974.2 1588.9,974.2 1591.0,974.2 1593.1,974.3 1595.2,974.3 1597.2,974.4 1599.3,974.4 1601.4,974.4 1603.5,974.5 1605.6,974.5 1607.7,974.5 1609.7,974.6 1611.8,974.6 1613.9,974.7 1616.0,974.7 1618.1,974.7 1620.2,974.8 1622.2,974.8 1624.3,974.8 1626.4,974.9 1628.5,974.9 1630.6,974.9 1632.7,975.0 1634.8,975.0 1636.8,975.0 1638.9,975.1 1641.0,975.1 1643.1,975.1 1645.2,975.2 1647.3,975.2 1649.3,975.2 1651.4,975.2 1653.5,975.3 1655.6,975.3 1657.7,975.3 1659.8,975.4 1661.8,975.4 1663.9,975.4 1666.0,975.5 1668.1,975.5 1670.2,975.5 1672.3,975.5 1674.4,975.6 1676.4,975.6 1678.5,975.6 1680.6,975.7 1682.7,975.7 1684.8,975.7 1686.9,975.7 1688.9,975.8 1691.0,975.8 1693.1,975.8 1695.2,975.8 1697.3,975.9 1699.4,975.9 1701.4,975.9 1703.5,975.9 1705.6,976.0 1707.7,976.0 1709.8,976.0 1711.9,976.0 1714.0,976.1 1716.0,976.1 1718.1,976.1 1720.2,976.1 1722.3,976.2 1724.4,976.2 1726.5,976.2 1728.5,976.2 1730.6,976.2 1732.7,976.3 1734.8,976.3 1736.9,976.3 1739.0,976.3 1741.0,976.4 1743.1,976.4 1745.2,976.4 1747.3,976.4 1749.4,976.4 1751.5,976.5 1753.6,976.5 1755.6,976.5 1757.7,976.5 1759.8,976.5 1761.9,976.6 1764.0,976.6 1766.1,976.6 1768.1,976.6 1770.2,976.6 1772.3,976.7 1774.4,976.7 1776.5,976.7 1778.6,976.7 1780.6,976.7 1782.7,976.8 1784.8,976.8 1786.9,976.8 1789.0,976.8" fill="none" stroke="#000000" stroke-width="4.5" stroke-dasharray="8 14.4" stroke-dashoffset="14.66" stroke-linecap="round" clip-path="url(#ca)"/>
<circle cx="290.38" cy="390.94" r="20.3" fill="#ff0000"/>
<path d="M352.87 647.69V704.56" stroke="#ff0000" stroke-width="2.2"/>
<path d="M332.62 647.69H373.12" stroke="#ff0000" stroke-width="2.4"/>
<path d="M332.62 704.56H373.12" stroke="#ff0000" stroke-width="2.4"/>
<circle cx="352.87" cy="676.12" r="20.3" fill="#ff0000"/>
<path d="M415.36 1037.57V1066.00" stroke="#ff0000" stroke-width="2.2"/>
<path d="M395.11 1037.57H435.61" stroke="#ff0000" stroke-width="2.4"/>
<circle cx="415.36" cy="1066.00" r="20.3" fill="#ff0000"/>
<path d="M602.81 1037.57V1066.00" stroke="#ff0000" stroke-width="2.2"/>
<path d="M582.56 1037.57H623.06" stroke="#ff0000" stroke-width="2.4"/>
<circle cx="602.81" cy="1066.00" r="20.3" fill="#ff0000"/>
<path d="M790.26 1037.57V1066.00" stroke="#ff0000" stroke-width="2.2"/>
<path d="M770.01 1037.57H810.51" stroke="#ff0000" stroke-width="2.4"/>
<circle cx="790.26" cy="1066.00" r="20.3" fill="#ff0000"/>
<path d="M977.72 1037.57V1066.00" stroke="#ff0000" stroke-width="2.2"/>
<path d="M957.47 1037.57H997.97" stroke="#ff0000" stroke-width="2.4"/>
<circle cx="977.72" cy="1066.00" r="20.3" fill="#ff0000"/>
<path d="M1352.63 1037.57V1066.00" stroke="#ff0000" stroke-width="2.2"/>
<path d="M1332.38 1037.57H1372.88" stroke="#ff0000" stroke-width="2.4"/>
<circle cx="1352.63" cy="1066.00" r="20.3" fill="#ff0000"/>
<path d="M1727.54 1037.57V1066.00" stroke="#ff0000" stroke-width="2.2"/>
<path d="M1707.29 1037.57H1747.79" stroke="#ff0000" stroke-width="2.4"/>
<circle cx="1727.54" cy="1066.00" r="20.3" fill="#ff0000"/>
<circle cx="290.38" cy="448.94" r="20.3" fill="#0000ff"/>
<path d="M352.87 726.97V783.83" stroke="#0000ff" stroke-width="2.2"/>
<path d="M332.62 726.97H373.12" stroke="#0000ff" stroke-width="2.4"/>
<path d="M332.62 783.83H373.12" stroke="#0000ff" stroke-width="2.4"/>
<circle cx="352.87" cy="755.40" r="20.3" fill="#0000ff"/>
<path d="M415.36 950.10V1006.97" stroke="#0000ff" stroke-width="2.2"/>
<path d="M395.11 950.10H435.61" stroke="#0000ff" stroke-width="2.4"/>
<path d="M395.11 1006.97H435.61" stroke="#0000ff" stroke-width="2.4"/>
<circle cx="415.36" cy="978.53" r="20.3" fill="#0000ff"/>
<path d="M602.81 999.62V1056.49" stroke="#0000ff" stroke-width="2.2"/>
<path d="M582.56 999.62H623.06" stroke="#0000ff" stroke-width="2.4"/>
<path d="M582.56 1056.49H623.06" stroke="#0000ff" stroke-width="2.4"/>
<circle cx="602.81" cy="1028.06" r="20.3" fill="#0000ff"/>
<path d="M790.26 1002.07V1058.94" stroke="#0000ff" stroke-width="2.2"/>
<path d="M770.01 1002.07H810.51" stroke="#0000ff" stroke-width="2.4"/>
<path d="M770.01 1058.94H810.51" stroke="#0000ff" stroke-width="2.4"/>
<circle cx="790.26" cy="1030.51" r="20.3" fill="#0000ff"/>
<path d="M977.72 1004.33V1061.20" stroke="#0000ff" stroke-width="2.2"/>
<path d="M957.47 1004.33H997.97" stroke="#0000ff" stroke-width="2.4"/>
<path d="M957.47 1061.20H997.97" stroke="#0000ff" stroke-width="2.4"/>
<circle cx="977.72" cy="1032.77" r="20.3" fill="#0000ff"/>
<path d="M1352.63 1004.43V1061.29" stroke="#0000ff" stroke-width="2.2"/>
<path d="M1332.38 1004.43H1372.88" stroke="#0000ff" stroke-width="2.4"/>
<path d="M1332.38 1061.29H1372.88" stroke="#0000ff" stroke-width="2.4"/>
<circle cx="1352.63" cy="1032.86" r="20.3" fill="#0000ff"/>
<path d="M1727.54 1004.33V1061.20" stroke="#0000ff" stroke-width="2.2"/>
<path d="M1707.29 1004.33H1747.79" stroke="#0000ff" stroke-width="2.4"/>
<path d="M1707.29 1061.20H1747.79" stroke="#0000ff" stroke-width="2.4"/>
<circle cx="1727.54" cy="1032.77" r="20.3" fill="#0000ff"/>
<circle cx="227.90" cy="124.50" r="20.3" fill="#000000"/>
<circle cx="290.38" cy="239.36" r="20.3" fill="#000000"/>
<path d="M352.87 338.97V395.84" stroke="#000000" stroke-width="6.8"/>
<path d="M332.37 338.97H373.37" stroke="#000000" stroke-width="7.0"/>
<path d="M332.37 395.84H373.37" stroke="#000000" stroke-width="7.0"/>
<circle cx="352.87" cy="367.41" r="20.3" fill="#000000"/>
<path d="M415.36 458.07V514.94" stroke="#000000" stroke-width="6.8"/>
<path d="M394.86 458.07H435.86" stroke="#000000" stroke-width="7.0"/>
<path d="M394.86 514.94H435.86" stroke="#000000" stroke-width="7.0"/>
<circle cx="415.36" cy="486.51" r="20.3" fill="#000000"/>
<path d="M602.81 761.90V818.76" stroke="#000000" stroke-width="6.8"/>
<path d="M582.31 761.90H623.31" stroke="#000000" stroke-width="7.0"/>
<path d="M582.31 818.76H623.31" stroke="#000000" stroke-width="7.0"/>
<circle cx="602.81" cy="790.33" r="20.3" fill="#000000"/>
<path d="M790.26 934.94V991.81" stroke="#000000" stroke-width="6.8"/>
<path d="M769.76 934.94H810.76" stroke="#000000" stroke-width="7.0"/>
<path d="M769.76 991.81H810.76" stroke="#000000" stroke-width="7.0"/>
<circle cx="790.26" cy="963.38" r="20.3" fill="#000000"/>
<path d="M977.72 933.06V989.93" stroke="#000000" stroke-width="6.8"/>
<path d="M957.22 933.06H998.22" stroke="#000000" stroke-width="7.0"/>
<path d="M957.22 989.93H998.22" stroke="#000000" stroke-width="7.0"/>
<circle cx="977.72" cy="961.49" r="20.3" fill="#000000"/>
<path d="M1352.63 937.01V993.88" stroke="#000000" stroke-width="6.8"/>
<path d="M1332.13 937.01H1373.13" stroke="#000000" stroke-width="7.0"/>
<path d="M1332.13 993.88H1373.13" stroke="#000000" stroke-width="7.0"/>
<circle cx="1352.63" cy="965.45" r="20.3" fill="#000000"/>
<path d="M1727.54 925.62V982.49" stroke="#000000" stroke-width="6.8"/>
<path d="M1707.04 925.62H1748.04" stroke="#000000" stroke-width="7.0"/>
<path d="M1707.04 982.49H1748.04" stroke="#000000" stroke-width="7.0"/>
<circle cx="1727.54" cy="954.06" r="20.3" fill="#000000"/>
<rect x="230.5" y="1409.0" width="1551.10" height="1037.00" fill="none" stroke="#000" stroke-width="4.4"/>
<path d="M216.50 2446.00H230.50M216.50 2257.32H230.50M216.50 2068.64H230.50M216.50 1879.96H230.50M216.50 1691.28H230.50M216.50 1502.60H230.50M230.50 2446.00V2459.00M489.02 2446.00V2459.00M747.54 2446.00V2459.00M1006.06 2446.00V2459.00M1264.58 2446.00V2459.00M1523.10 2446.00V2459.00M1781.62 2446.00V2459.00" stroke="#000" stroke-width="4.2" fill="none"/>
<polyline points="230.5,1501.8 232.6,1526.8 234.6,1551.2 236.7,1575.0 238.8,1598.1 240.8,1620.6 242.9,1642.5 245.0,1663.9 247.1,1684.7 249.1,1704.9 251.2,1724.6 253.3,1743.8 255.3,1762.5 257.4,1780.7 259.5,1798.4 261.5,1815.7 263.6,1832.4 265.7,1848.8 267.8,1864.7 269.8,1880.2 271.9,1895.3 274.0,1910.0 276.0,1924.3 278.1,1938.3 280.2,1951.8 282.2,1965.0 284.3,1977.9 286.4,1990.4 288.4,2002.6 290.5,2014.5 292.6,2026.1 294.7,2037.3 296.7,2048.3 298.8,2059.0 300.9,2069.3 302.9,2079.5 305.0,2089.3 307.1,2098.9 309.1,2108.2 311.2,2117.3 313.3,2126.2 315.4,2134.8 317.4,2143.2 319.5,2151.4 321.6,2159.3 323.6,2167.1 325.7,2174.6 327.8,2182.0 329.8,2189.1 331.9,2196.1 334.0,2202.9 336.0,2209.5 338.1,2215.9 340.2,2222.2 342.3,2228.3 344.3,2234.2 346.4,2240.0 348.5,2245.6 350.5,2251.1 352.6,2256.4 354.7,2261.6 356.7,2266.7 358.8,2271.6 360.9,2276.4 363.0,2281.1 365.0,2285.6 367.1,2290.1 369.2,2294.4 371.2,2298.6 373.3,2302.6 375.4,2306.6 377.4,2310.5 379.5,2314.3 381.6,2317.9 383.6,2321.5 385.7,2325.0 387.8,2328.4 389.9,2331.7 391.9,2334.9 394.0,2338.0 396.1,2341.1 398.1,2344.1 400.2,2346.9 402.3,2349.8 404.3,2352.5 406.4,2355.2 408.5,2357.8 410.5,2360.3 412.6,2362.7 414.7,2365.1 416.8,2367.5 418.8,2369.8 420.9,2372.0 423.0,2374.1 425.0,2376.2 427.1,2378.3 429.2,2380.2 431.2,2382.2 433.3,2384.1 435.4,2385.9 437.5,2387.7 439.5,2389.4 441.6,2391.1 443.7,2392.8 445.7,2394.4 447.8,2395.9 449.9,2397.5 451.9,2399.0 454.0,2400.4 456.1,2401.8 458.1,2403.2 460.2,2404.5 462.3,2405.8 464.4,2407.1 466.4,2408.3 468.5,2409.5 470.6,2410.7 472.6,2411.8 474.7,2412.9 476.8,2414.0 478.8,2415.0 480.9,2416.1 483.0,2417.0 485.1,2418.0 487.1,2419.0 489.2,2419.9 491.3,2420.8 493.3,2421.6 495.4,2422.5 497.5,2423.3 499.5,2424.1 501.6,2424.9 503.7,2425.7 505.7,2426.4 507.8,2427.1 509.9,2427.8 512.0,2428.5 514.0,2429.2 516.1,2429.8 518.2,2430.5 520.2,2431.1 522.3,2431.7 524.4,2432.3 526.4,2432.8 528.5,2433.4 530.6,2433.9 532.7,2434.4 534.7,2434.9 536.8,2435.4 538.9,2435.9 540.9,2436.4 543.0,2436.9 545.1,2437.3 547.1,2437.7 549.2,2438.2 551.3,2438.6 553.3,2439.0 555.4,2439.4 557.5,2439.7 559.6,2440.1 561.6,2440.5 563.7,2440.8 565.8,2441.2 567.8,2441.5 569.9,2441.8 572.0,2442.1 574.0,2442.5 576.1,2442.8 578.2,2443.0 580.3,2443.3 582.3,2443.6 584.4,2443.9 586.5,2444.1 588.5,2444.4 590.6,2444.6 592.7,2444.9 594.7,2445.1 596.8,2445.3 598.9,2445.6 600.9,2445.8 603.0,2446.0 605.1,2446.2 607.2,2446.4 609.2,2446.6 611.3,2446.8 613.4,2447.0 615.4,2447.2 617.5,2447.3 619.6,2447.5 621.6,2447.7 623.7,2447.8 625.8,2448.0 627.9,2448.1 629.9,2448.3 632.0,2448.4 634.1,2448.6 636.1,2448.7 638.2,2448.9 640.3,2449.0 642.3,2449.1 644.4,2449.2 646.5,2449.4 648.5,2449.5 650.6,2449.6 652.7,2449.7 654.8,2449.8 656.8,2449.9 658.9,2450.0 661.0,2450.1 663.0,2450.2 665.1,2450.3 667.2,2450.4 669.2,2450.5 671.3,2450.6 673.4,2450.7 675.5,2450.8 677.5,2450.8 679.6,2450.9 681.7,2451.0 683.7,2451.1 685.8,2451.1 687.9,2451.2 689.9,2451.3 692.0,2451.3 694.1,2451.4 696.1,2451.5 698.2,2451.5 700.3,2451.6 702.4,2451.7 704.4,2451.7 706.5,2451.8 708.6,2451.8 710.6,2451.9 712.7,2451.9 714.8,2452.0 716.8,2452.0 718.9,2452.1 721.0,2452.1 723.1,2452.2 725.1,2452.2 727.2,2452.2 729.3,2452.3 731.3,2452.3 733.4,2452.4 735.5,2452.4 737.5,2452.4 739.6,2452.5 741.7,2452.5 743.7,2452.6 745.8,2452.6 747.9,2452.6 750.0,2452.7 752.0,2452.7 754.1,2452.7 756.2,2452.7 758.2,2452.8 760.3,2452.8 762.4,2452.8 764.4,2452.9 766.5,2452.9 768.6,2452.9 770.6,2452.9 772.7,2453.0 774.8,2453.0 776.9,2453.0 778.9,2453.0 781.0,2453.0 783.1,2453.1 785.1,2453.1 787.2,2453.1 789.3,2453.1 791.3,2453.1 793.4,2453.2 795.5,2453.2 797.6,2453.2 799.6,2453.2 801.7,2453.2 803.8,2453.2 805.8,2453.3 807.9,2453.3 810.0,2453.3 812.0,2453.3 814.1,2453.3 816.2,2453.3 818.2,2453.3 820.3,2453.4 822.4,2453.4 824.5,2453.4 826.5,2453.4 828.6,2453.4 830.7,2453.4 832.7,2453.4 834.8,2453.4 836.9,2453.4 838.9,2453.5 841.0,2453.5 843.1,2453.5 845.2,2453.5 847.2,2453.5 849.3,2453.5 851.4,2453.5 853.4,2453.5 855.5,2453.5 857.6,2453.5 859.6,2453.5 861.7,2453.6 863.8,2453.6 865.8,2453.6 867.9,2453.6 870.0,2453.6 872.1,2453.6 874.1,2453.6 876.2,2453.6 878.3,2453.6 880.3,2453.6 882.4,2453.6 884.5,2453.6 886.5,2453.6 888.6,2453.6 890.7,2453.6 892.8,2453.6 894.8,2453.6 896.9,2453.7 899.0,2453.7 901.0,2453.7 903.1,2453.7 905.2,2453.7 907.2,2453.7 909.3,2453.7 911.4,2453.7 913.4,2453.7 915.5,2453.7 917.6,2453.7 919.7,2453.7 921.7,2453.7 923.8,2453.7 925.9,2453.7 927.9,2453.7 930.0,2453.7 932.1,2453.7 934.1,2453.7 936.2,2453.7 938.3,2453.7 940.4,2453.7 942.4,2453.7 944.5,2453.7 946.6,2453.7 948.6,2453.7 950.7,2453.7 952.8,2453.7 954.8,2453.7 956.9,2453.7 959.0,2453.8 961.0,2453.8 963.1,2453.8 965.2,2453.8 967.3,2453.8 969.3,2453.8 971.4,2453.8 973.5,2453.8 975.5,2453.8 977.6,2453.8 979.7,2453.8 981.7,2453.8 983.8,2453.8 985.9,2453.8 988.0,2453.8 990.0,2453.8 992.1,2453.8 994.2,2453.8 996.2,2453.8 998.3,2453.8 1000.4,2453.8 1002.4,2453.8 1004.5,2453.8 1006.6,2453.8 1008.6,2453.8 1010.7,2453.8 1012.8,2453.8 1014.9,2453.8 1016.9,2453.8 1019.0,2453.8 1021.1,2453.8 1023.1,2453.8 1025.2,2453.8 1027.3,2453.8 1029.3,2453.8 1031.4,2453.8 1033.5,2453.8 1035.6,2453.8 1037.6,2453.8 1039.7,2453.8 1041.8,2453.8 1043.8,2453.8 1045.9,2453.8 1048.0,2453.8 1050.0,2453.8 1052.1,2453.8 1054.2,2453.8 1056.2,2453.8 1058.3,2453.8 1060.4,2453.8 1062.5,2453.8 1064.5,2453.8 1066.6,2453.8 1068.7,2453.8 1070.7,2453.8 1072.8,2453.8 1074.9,2453.8 1076.9,2453.8 1079.0,2453.8 1081.1,2453.8 1083.2,2453.8 1085.2,2453.8 1087.3,2453.8 1089.4,2453.8 1091.4,2453.8 1093.5,2453.8 1095.6,2453.8 1097.6,2453.8 1099.7,2453.8 1101.8,2453.8 1103.8,2453.8 1105.9,2453.8 1108.0,2453.8 1110.1,2453.8 1112.1,2453.8 1114.2,2453.8 1116.3,2453.8 1118.3,2453.8 1120.4,2453.8 1122.5,2453.8 1124.5,2453.8 1126.6,2453.8 1128.7,2453.8 1130.7,2453.8 1132.8,2453.8 1134.9,2453.8 1137.0,2453.8 1139.0,2453.8 1141.1,2453.8 1143.2,2453.8 1145.2,2453.8 1147.3,2453.8 1149.4,2453.8 1151.4,2453.8 1153.5,2453.8 1155.6,2453.8 1157.7,2453.8 1159.7,2453.8 1161.8,2453.8 1163.9,2453.8 1165.9,2453.8 1168.0,2453.8 1170.1,2453.8 1172.1,2453.8 1174.2,2453.8 1176.3,2453.8 1178.3,2453.8 1180.4,2453.8 1182.5,2453.8 1184.6,2453.8 1186.6,2453.8 1188.7,2453.8 1190.8,2453.8 1192.8,2453.8 1194.9,2453.8 1197.0,2453.8 1199.0,2453.8 1201.1,2453.8 1203.2,2453.8 1205.3,2453.8 1207.3,2453.8 1209.4,2453.8 1211.5,2453.8 1213.5,2453.8 1215.6,2453.8 1217.7,2453.8 1219.7,2453.8 1221.8,2453.8 1223.9,2453.8 1225.9,2453.8 1228.0,2453.8 1230.1,2453.8 1232.2,2453.8 1234.2,2453.8 1236.3,2453.8 1238.4,2453.8 1240.4,2453.8 1242.5,2453.8 1244.6,2453.8 1246.6,2453.8 1248.7,2453.8 1250.8,2453.8 1252.9,2453.8 1254.9,2453.8 1257.0,2453.8 1259.1,2453.8 1261.1,2453.8 1263.2,2453.8 1265.3,2453.8 1267.3,2453.8 1269.4,2453.8 1271.5,2453.8 1273.5,2453.8 1275.6,2453.8 1277.7,2453.8 1279.8,2453.8 1281.8,2453.8 1283.9,2453.8 1286.0,2453.8 1288.0,2453.8 1290.1,2453.8 1292.2,2453.8 1294.2,2453.8 1296.3,2453.8 1298.4,2453.8 1300.5,2453.8 1302.5,2453.8 1304.6,2453.8 1306.7,2453.8 1308.7,2453.8 1310.8,2453.8 1312.9,2453.8 1314.9,2453.8 1317.0,2453.8 1319.1,2453.8 1321.1,2453.8 1323.2,2453.8 1325.3,2453.8 1327.4,2453.8 1329.4,2453.8 1331.5,2453.8 1333.6,2453.8 1335.6,2453.8 1337.7,2453.8 1339.8,2453.8 1341.8,2453.8 1343.9,2453.8 1346.0,2453.8 1348.1,2453.8 1350.1,2453.8 1352.2,2453.8 1354.3,2453.8 1356.3,2453.8 1358.4,2453.8 1360.5,2453.8 1362.5,2453.8 1364.6,2453.8 1366.7,2453.8 1368.7,2453.8 1370.8,2453.8 1372.9,2453.8 1375.0,2453.8 1377.0,2453.8 1379.1,2453.8 1381.2,2453.8 1383.2,2453.8 1385.3,2453.8 1387.4,2453.8 1389.4,2453.8 1391.5,2453.8 1393.6,2453.8 1395.7,2453.8 1397.7,2453.8 1399.8,2453.8 1401.9,2453.8 1403.9,2453.8 1406.0,2453.8 1408.1,2453.8 1410.1,2453.8 1412.2,2453.8 1414.3,2453.8 1416.3,2453.8 1418.4,2453.8 1420.5,2453.8 1422.6,2453.8 1424.6,2453.8 1426.7,2453.8 1428.8,2453.8 1430.8,2453.8 1432.9,2453.8 1435.0,2453.8 1437.0,2453.8 1439.1,2453.8 1441.2,2453.8 1443.3,2453.8 1445.3,2453.8 1447.4,2453.8 1449.5,2453.8 1451.5,2453.8 1453.6,2453.8 1455.7,2453.8 1457.7,2453.8 1459.8,2453.8 1461.9,2453.8 1463.9,2453.8 1466.0,2453.8 1468.1,2453.8 1470.2,2453.8 1472.2,2453.8 1474.3,2453.8 1476.4,2453.8 1478.4,2453.8 1480.5,2453.8 1482.6,2453.8 1484.6,2453.8 1486.7,2453.8 1488.8,2453.8 1490.8,2453.8 1492.9,2453.8 1495.0,2453.8 1497.1,2453.8 1499.1,2453.8 1501.2,2453.8 1503.3,2453.8 1505.3,2453.8 1507.4,2453.8 1509.5,2453.8 1511.5,2453.8 1513.6,2453.8 1515.7,2453.8 1517.8,2453.8 1519.8,2453.8 1521.9,2453.8 1524.0,2453.8 1526.0,2453.8 1528.1,2453.8 1530.2,2453.8 1532.2,2453.8 1534.3,2453.8 1536.4,2453.8 1538.4,2453.8 1540.5,2453.8 1542.6,2453.8 1544.7,2453.8 1546.7,2453.8 1548.8,2453.8 1550.9,2453.8 1552.9,2453.8 1555.0,2453.8 1557.1,2453.8 1559.1,2453.8 1561.2,2453.8 1563.3,2453.8 1565.4,2453.8 1567.4,2453.8 1569.5,2453.8 1571.6,2453.8 1573.6,2453.8 1575.7,2453.8 1577.8,2453.8 1579.8,2453.8 1581.9,2453.8 1584.0,2453.8 1586.0,2453.8 1588.1,2453.8 1590.2,2453.8 1592.3,2453.8 1594.3,2453.8 1596.4,2453.8 1598.5,2453.8 1600.5,2453.8 1602.6,2453.8 1604.7,2453.8 1606.7,2453.8 1608.8,2453.8 1610.9,2453.8 1613.0,2453.8 1615.0,2453.8 1617.1,2453.8 1619.2,2453.8 1621.2,2453.8 1623.3,2453.8 1625.4,2453.8 1627.4,2453.8 1629.5,2453.8 1631.6,2453.8 1633.6,2453.8 1635.7,2453.8 1637.8,2453.8 1639.9,2453.8 1641.9,2453.8 1644.0,2453.8 1646.1,2453.8 1648.1,2453.8 1650.2,2453.8 1652.3,2453.8 1654.3,2453.8 1656.4,2453.8 1658.5,2453.8 1660.6,2453.8 1662.6,2453.8 1664.7,2453.8 1666.8,2453.8 1668.8,2453.8 1670.9,2453.8 1673.0,2453.8 1675.0,2453.8 1677.1,2453.8 1679.2,2453.8 1681.2,2453.8 1683.3,2453.8 1685.4,2453.8 1687.5,2453.8 1689.5,2453.8 1691.6,2453.8 1693.7,2453.8 1695.7,2453.8 1697.8,2453.8 1699.9,2453.8 1701.9,2453.8 1704.0,2453.8 1706.1,2453.8 1708.2,2453.8 1710.2,2453.8 1712.3,2453.8 1714.4,2453.8 1716.4,2453.8 1718.5,2453.8 1720.6,2453.8 1722.6,2453.8 1724.7,2453.8 1726.8,2453.8 1728.8,2453.8 1730.9,2453.8 1733.0,2453.8 1735.1,2453.8 1737.1,2453.8 1739.2,2453.8 1741.3,2453.8 1743.3,2453.8 1745.4,2453.8 1747.5,2453.8 1749.5,2453.8 1751.6,2453.8 1753.7,2453.8 1755.8,2453.8 1757.8,2453.8 1759.9,2453.8 1762.0,2453.8 1764.0,2453.8 1766.1,2453.8 1768.2,2453.8 1770.2,2453.8 1772.3,2453.8 1774.4,2453.8 1776.4,2453.8 1778.5,2453.8 1780.6,2453.8" fill="none" stroke="#ff0000" stroke-width="4.0" stroke-dasharray="8 14.4" stroke-dashoffset="9.38" stroke-linecap="round" clip-path="url(#cb)"/>
<polyline points="230.5,1416.1 232.6,1433.2 234.6,1450.0 236.7,1466.6 238.8,1482.9 240.8,1498.9 242.9,1514.6 245.0,1530.1 247.1,1545.4 249.1,1560.4 251.2,1575.1 253.3,1589.6 255.3,1603.9 257.4,1617.9 259.5,1631.7 261.5,1645.3 263.6,1658.7 265.7,1671.8 267.8,1684.7 269.8,1697.5 271.9,1710.0 274.0,1722.3 276.0,1734.4 278.1,1746.3 280.2,1758.0 282.2,1769.5 284.3,1780.8 286.4,1791.9 288.4,1802.9 290.5,1813.7 292.6,1824.3 294.7,1834.7 296.7,1845.0 298.8,1855.1 300.9,1865.0 302.9,1874.7 305.0,1884.4 307.1,1893.8 309.1,1903.1 311.2,1912.2 313.3,1921.2 315.4,1930.1 317.4,1938.8 319.5,1947.3 321.6,1955.7 323.6,1964.0 325.7,1972.1 327.8,1980.2 329.8,1988.0 331.9,1995.8 334.0,2003.4 336.0,2010.9 338.1,2018.3 340.2,2025.5 342.3,2032.7 344.3,2039.7 346.4,2046.6 348.5,2053.4 350.5,2060.0 352.6,2066.6 354.7,2073.1 356.7,2079.4 358.8,2085.7 360.9,2091.8 363.0,2097.9 365.0,2103.8 367.1,2109.7 369.2,2115.4 371.2,2121.1 373.3,2126.7 375.4,2132.2 377.4,2137.5 379.5,2142.8 381.6,2148.1 383.6,2153.2 385.7,2158.2 387.8,2163.2 389.9,2168.1 391.9,2172.9 394.0,2177.6 396.1,2182.2 398.1,2186.8 400.2,2191.3 402.3,2195.7 404.3,2200.1 406.4,2204.4 408.5,2208.6 410.5,2212.7 412.6,2216.8 414.7,2220.8 416.8,2224.7 418.8,2228.6 420.9,2232.4 423.0,2236.2 425.0,2239.8 427.1,2243.5 429.2,2247.0 431.2,2250.5 433.3,2254.0 435.4,2257.4 437.5,2260.7 439.5,2264.0 441.6,2267.2 443.7,2270.4 445.7,2273.5 447.8,2276.6 449.9,2279.6 451.9,2282.6 454.0,2285.6 456.1,2288.4 458.1,2291.3 460.2,2294.0 462.3,2296.8 464.4,2299.5 466.4,2302.1 468.5,2304.7 470.6,2307.3 472.6,2309.8 474.7,2312.3 476.8,2314.7 478.8,2317.1 480.9,2319.5 483.0,2321.8 485.1,2324.1 487.1,2326.4 489.2,2328.6 491.3,2330.7 493.3,2332.9 495.4,2335.0 497.5,2337.1 499.5,2339.1 501.6,2341.1 503.7,2343.1 505.7,2345.0 507.8,2346.9 509.9,2348.8 512.0,2350.6 514.0,2352.4 516.1,2354.2 518.2,2356.0 520.2,2357.7 522.3,2359.4 524.4,2361.1 526.4,2362.7 528.5,2364.3 530.6,2365.9 532.7,2367.5 534.7,2369.0 536.8,2370.5 538.9,2372.0 540.9,2373.5 543.0,2374.9 545.1,2376.3 547.1,2377.7 549.2,2379.1 551.3,2380.4 553.3,2381.8 555.4,2383.1 557.5,2384.4 559.6,2385.6 561.6,2386.9 563.7,2388.1 565.8,2389.3 567.8,2390.5 569.9,2391.6 572.0,2392.8 574.0,2393.9 576.1,2395.0 578.2,2396.1 580.3,2397.1 582.3,2398.2 584.4,2399.2 586.5,2400.3 588.5,2401.3 590.6,2402.2 592.7,2403.2 594.7,2404.2 596.8,2405.1 598.9,2406.0 600.9,2406.9 603.0,2407.8 605.1,2408.7 607.2,2409.6 609.2,2410.4 611.3,2411.2 613.4,2412.1 615.4,2412.9 617.5,2413.7 619.6,2414.4 621.6,2415.2 623.7,2416.0 625.8,2416.7 627.9,2417.4 629.9,2418.2 632.0,2418.9 634.1,2419.6 636.1,2420.3 638.2,2420.9 640.3,2421.6 642.3,2422.2 644.4,2422.9 646.5,2423.5 648.5,2424.1 650.6,2424.7 652.7,2425.3 654.8,2425.9 656.8,2426.5 658.9,2427.1 661.0,2427.6 663.0,2428.2 665.1,2428.7 667.2,2429.3 669.2,2429.8 671.3,2430.3 673.4,2430.8 675.5,2431.3 677.5,2431.8 679.6,2432.3 681.7,2432.8 683.7,2433.3 685.8,2433.7 687.9,2434.2 689.9,2434.6 692.0,2435.0 694.1,2435.5 696.1,2435.9 698.2,2436.3 700.3,2436.7 702.4,2437.1 704.4,2437.5 706.5,2437.9 708.6,2438.3 710.6,2438.7 712.7,2439.1 714.8,2439.4 716.8,2439.8 718.9,2440.1 721.0,2440.5 723.1,2440.8 725.1,2441.2 727.2,2441.5 729.3,2441.8 731.3,2442.1 733.4,2442.5 735.5,2442.8 737.5,2443.1 739.6,2443.4 741.7,2443.7 743.7,2444.0 745.8,2444.2 747.9,2444.5 750.0,2444.8 752.0,2445.1 754.1,2445.3 756.2,2445.6 758.2,2445.9 760.3,2446.1 762.4,2446.4 764.4,2446.6 766.5,2446.9 768.6,2447.1 770.6,2447.3 772.7,2447.6 774.8,2447.8 776.9,2448.0 778.9,2448.2 781.0,2448.4 783.1,2448.7 785.1,2448.9 787.2,2449.1 789.3,2449.3 791.3,2449.5 793.4,2449.7 795.5,2449.9 797.6,2450.0 799.6,2450.2 801.7,2450.4 803.8,2450.6 805.8,2450.8 807.9,2450.9 810.0,2451.1 812.0,2451.3 814.1,2451.5 816.2,2451.6 818.2,2451.8 820.3,2451.9 822.4,2452.1 824.5,2452.2 826.5,2452.4 828.6,2452.5 830.7,2452.7 832.7,2452.8 834.8,2453.0 836.9,2453.1 838.9,2453.2 841.0,2453.4 843.1,2453.5 845.2,2453.6 847.2,2453.8 849.3,2453.9 851.4,2454.0 853.4,2454.1 855.5,2454.2 857.6,2454.4 859.6,2454.5 861.7,2454.6 863.8,2454.7 865.8,2454.8 867.9,2454.9 870.0,2455.0 872.1,2455.1 874.1,2455.2 876.2,2455.3 878.3,2455.4 880.3,2455.5 882.4,2455.6 884.5,2455.7 886.5,2455.8 888.6,2455.9 890.7,2456.0 892.8,2456.1 894.8,2456.2 896.9,2456.3 899.0,2456.3 901.0,2456.4 903.1,2456.5 905.2,2456.6 907.2,2456.7 909.3,2456.7 911.4,2456.8 913.4,2456.9 915.5,2457.0 917.6,2457.0 919.7,2457.1 921.7,2457.2 923.8,2457.3 925.9,2457.3 927.9,2457.4 930.0,2457.5 932.1,2457.5 934.1,2457.6 936.2,2457.6 938.3,2457.7 940.4,2457.8 942.4,2457.8 944.5,2457.9 946.6,2457.9 948.6,2458.0 950.7,2458.1 952.8,2458.1 954.8,2458.2 956.9,2458.2 959.0,2458.3 961.0,2458.3 963.1,2458.4 965.2,2458.4 967.3,2458.5 969.3,2458.5 971.4,2458.6 973.5,2458.6 975.5,2458.7 977.6,2458.7 979.7,2458.7 981.7,2458.8 983.8,2458.8 985.9,2458.9 988.0,2458.9 990.0,2459.0 992.1,2459.0 994.2,2459.0 996.2,2459.1 998.3,2459.1 1000.4,2459.2 1002.4,2459.2 1004.5,2459.2 1006.6,2459.3 1008.6,2459.3 1010.7,2459.3 1012.8,2459.4 1014.9,2459.4 1016.9,2459.4 1019.0,2459.5 1021.1,2459.5 1023.1,2459.5 1025.2,2459.6 1027.3,2459.6 1029.3,2459.6 1031.4,2459.6 1033.5,2459.7 1035.6,2459.7 1037.6,2459.7 1039.7,2459.8 1041.8,2459.8 1043.8,2459.8 1045.9,2459.8 1048.0,2459.9 1050.0,2459.9 1052.1,2459.9 1054.2,2459.9 1056.2,2460.0 1058.3,2460.0 1060.4,2460.0 1062.5,2460.0 1064.5,2460.1 1066.6,2460.1 1068.7,2460.1 1070.7,2460.1 1072.8,2460.1 1074.9,2460.2 1076.9,2460.2 1079.0,2460.2 1081.1,2460.2 1083.2,2460.2 1085.2,2460.3 1087.3,2460.3 1089.4,2460.3 1091.4,2460.3 1093.5,2460.3 1095.6,2460.4 1097.6,2460.4 1099.7,2460.4 1101.8,2460.4 1103.8,2460.4 1105.9,2460.4 1108.0,2460.5 1110.1,2460.5 1112.1,2460.5 1114.2,2460.5 1116.3,2460.5 1118.3,2460.5 1120.4,2460.5 1122.5,2460.6 1124.5,2460.6 1126.6,2460.6 1128.7,2460.6 1130.7,2460.6 1132.8,2460.6 1134.9,2460.6 1137.0,2460.6 1139.0,2460.7 1141.1,2460.7 1143.2,2460.7 1145.2,2460.7 1147.3,2460.7 1149.4,2460.7 1151.4,2460.7 1153.5,2460.7 1155.6,2460.8 1157.7,2460.8 1159.7,2460.8 1161.8,2460.8 1163.9,2460.8 1165.9,2460.8 1168.0,2460.8 1170.1,2460.8 1172.1,2460.8 1174.2,2460.8 1176.3,2460.9 1178.3,2460.9 1180.4,2460.9 1182.5,2460.9 1184.6,2460.9 1186.6,2460.9 1188.7,2460.9 1190.8,2460.9 1192.8,2460.9 1194.9,2460.9 1197.0,2460.9 1199.0,2460.9 1201.1,2461.0 1203.2,2461.0 1205.3,2461.0 1207.3,2461.0 1209.4,2461.0 1211.5,2461.0 1213.5,2461.0 1215.6,2461.0 1217.7,2461.0 1219.7,2461.0 1221.8,2461.0 1223.9,2461.0 1225.9,2461.0 1228.0,2461.0 1230.1,2461.0 1232.2,2461.1 1234.2,2461.1 1236.3,2461.1 1238.4,2461.1 1240.4,2461.1 1242.5,2461.1 1244.6,2461.1 1246.6,2461.1 1248.7,2461.1 1250.8,2461.1 1252.9,2461.1 1254.9,2461.1 1257.0,2461.1 1259.1,2461.1 1261.1,2461.1 1263.2,2461.1 1265.3,2461.1 1267.3,2461.1 1269.4,2461.1 1271.5,2461.1 1273.5,2461.2 1275.6,2461.2 1277.7,2461.2 1279.8,2461.2 1281.8,2461.2 1283.9,2461.2 1286.0,2461.2 1288.0,2461.2 1290.1,2461.2 1292.2,2461.2 1294.2,2461.2 1296.3,2461.2 1298.4,2461.2 1300.5,2461.2 1302.5,2461.2 1304.6,2461.2 1306.7,2461.2 1308.7,2461.2 1310.8,2461.2 1312.9,2461.2 1314.9,2461.2 1317.0,2461.2 1319.1,2461.2 1321.1,2461.2 1323.2,2461.2 1325.3,2461.2 1327.4,2461.2 1329.4,2461.2 1331.5,2461.2 1333.6,2461.2 1335.6,2461.3 1337.7,2461.3 1339.8,2461.3 1341.8,2461.3 1343.9,2461.3 1346.0,2461.3 1348.1,2461.3 1350.1,2461.3 1352.2,2461.3 1354.3,2461.3 1356.3,2461.3 1358.4,2461.3 1360.5,2461.3 1362.5,2461.3 1364.6,2461.3 1366.7,2461.3 1368.7,2461.3 1370.8,2461.3 1372.9,2461.3 1375.0,2461.3 1377.0,2461.3 1379.1,2461.3 1381.2,2461.3 1383.2,2461.3 1385.3,2461.3 1387.4,2461.3 1389.4,2461.3 1391.5,2461.3 1393.6,2461.3 1395.7,2461.3 1397.7,2461.3 1399.8,2461.3 1401.9,2461.3 1403.9,2461.3 1406.0,2461.3 1408.1,2461.3 1410.1,2461.3 1412.2,2461.3 1414.3,2461.3 1416.3,2461.3 1418.4,2461.3 1420.5,2461.3 1422.6,2461.3 1424.6,2461.3 1426.7,2461.3 1428.8,2461.3 1430.8,2461.3 1432.9,2461.3 1435.0,2461.3 1437.0,2461.3 1439.1,2461.3 1441.2,2461.3 1443.3,2461.3 1445.3,2461.3 1447.4,2461.3 1449.5,2461.3 1451.5,2461.3 1453.6,2461.3 1455.7,2461.3 1457.7,2461.3 1459.8,2461.3 1461.9,2461.3 1463.9,2461.3 1466.0,2461.4 1468.1,2461.4 1470.2,2461.4 1472.2,2461.4 1474.3,2461.4 1476.4,2461.4 1478.4,2461.4 1480.5,2461.4 1482.6,2461.4 1484.6,2461.4 1486.7,2461.4 1488.8,2461.4 1490.8,2461.4 1492.9,2461.4 1495.0,2461.4 1497.1,2461.4 1499.1,2461.4 1501.2,2461.4 1503.3,2461.4 1505.3,2461.4 1507.4,2461.4 1509.5,2461.4 1511.5,2461.4 1513.6,2461.4 1515.7,2461.4 1517.8,2461.4 1519.8,2461.4 1521.9,2461.4 1524.0,2461.4 1526.0,2461.4 1528.1,2461.4 1530.2,2461.4 1532.2,2461.4 1534.3,2461.4 1536.4,2461.4 1538.4,2461.4 1540.5,2461.4 1542.6,2461.4 1544.7,2461.4 1546.7,2461.4 1548.8,2461.4 1550.9,2461.4 1552.9,2461.4 1555.0,2461.4 1557.1,2461.4 1559.1,2461.4 1561.2,2461.4 1563.3,2461.4 1565.4,2461.4 1567.4,2461.4 1569.5,2461.4 1571.6,2461.4 1573.6,2461.4 1575.7,2461.4 1577.8,2461.4 1579.8,2461.4 1581.9,2461.4 1584.0,2461.4 1586.0,2461.4 1588.1,2461.4 1590.2,2461.4 1592.3,2461.4 1594.3,2461.4 1596.4,2461.4 1598.5,2461.4 1600.5,2461.4 1602.6,2461.4 1604.7,2461.4 1606.7,2461.4 1608.8,2461.4 1610.9,2461.4 1613.0,2461.4 1615.0,2461.4 1617.1,2461.4 1619.2,2461.4 1621.2,2461.4 1623.3,2461.4 1625.4,2461.4 1627.4,2461.4 1629.5,2461.4 1631.6,2461.4 1633.6,2461.4 1635.7,2461.4 1637.8,2461.4 1639.9,2461.4 1641.9,2461.4 1644.0,2461.4 1646.1,2461.4 1648.1,2461.4 1650.2,2461.4 1652.3,2461.4 1654.3,2461.4 1656.4,2461.4 1658.5,2461.4 1660.6,2461.4 1662.6,2461.4 1664.7,2461.4 1666.8,2461.4 1668.8,2461.4 1670.9,2461.4 1673.0,2461.4 1675.0,2461.4 1677.1,2461.4 1679.2,2461.4 1681.2,2461.4 1683.3,2461.4 1685.4,2461.4 1687.5,2461.4 1689.5,2461.4 1691.6,2461.4 1693.7,2461.4 1695.7,2461.4 1697.8,2461.4 1699.9,2461.4 1701.9,2461.4 1704.0,2461.4 1706.1,2461.4 1708.2,2461.4 1710.2,2461.4 1712.3,2461.4 1714.4,2461.4 1716.4,2461.4 1718.5,2461.4 1720.6,2461.4 1722.6,2461.4 1724.7,2461.4 1726.8,2461.4 1728.8,2461.4 1730.9,2461.4 1733.0,2461.4 1735.1,2461.4 1737.1,2461.4 1739.2,2461.4 1741.3,2461.4 1743.3,2461.4 1745.4,2461.4 1747.5,2461.4 1749.5,2461.4 1751.6,2461.4 1753.7,2461.4 1755.8,2461.4 1757.8,2461.4 1759.9,2461.4 1762.0,2461.4 1764.0,2461.4 1766.1,2461.4 1768.2,2461.4 1770.2,2461.4 1772.3,2461.4 1774.4,2461.4 1776.4,2461.4 1778.5,2461.4 1780.6,2461.4" fill="none" stroke="#0000ff" stroke-width="4.0" stroke-dasharray="8 14.4" stroke-dashoffset="6.42" stroke-linecap="round" clip-path="url(#cb)"/>
<polyline points="230.5,1500.0 232.6,1509.5 234.6,1518.9 236.7,1528.2 238.8,1537.4 240.8,1546.6 242.9,1555.6 245.0,1564.5 247.1,1573.4 249.1,1582.2 251.2,1590.9 253.3,1599.5 255.3,1608.0 257.4,1616.4 259.5,1624.8 261.5,1633.1 263.6,1641.2 265.7,1649.3 267.8,1657.4 269.8,1665.3 271.9,1673.2 274.0,1681.0 276.0,1688.7 278.1,1696.3 280.2,1703.9 282.2,1711.4 284.3,1718.8 286.4,1726.1 288.4,1733.4 290.5,1740.6 292.6,1747.7 294.7,1754.7 296.7,1761.7 298.8,1768.6 300.9,1775.5 302.9,1782.2 305.0,1789.0 307.1,1795.6 309.1,1802.2 311.2,1808.7 313.3,1815.1 315.4,1821.5 317.4,1827.8 319.5,1834.1 321.6,1840.3 323.6,1846.4 325.7,1852.5 327.8,1858.5 329.8,1864.4 331.9,1870.3 334.0,1876.2 336.0,1881.9 338.1,1887.7 340.2,1893.3 342.3,1898.9 344.3,1904.5 346.4,1910.0 348.5,1915.4 350.5,1920.8 352.6,1926.1 354.7,1931.4 356.7,1936.7 358.8,1941.8 360.9,1947.0 363.0,1952.0 365.0,1957.1 367.1,1962.0 369.2,1967.0 371.2,1971.8 373.3,1976.7 375.4,1981.5 377.4,1986.2 379.5,1990.9 381.6,1995.5 383.6,2000.1 385.7,2004.7 387.8,2009.2 389.9,2013.6 391.9,2018.0 394.0,2022.4 396.1,2026.7 398.1,2031.0 400.2,2035.3 402.3,2039.5 404.3,2043.6 406.4,2047.7 408.5,2051.8 410.5,2055.9 412.6,2059.8 414.7,2063.8 416.8,2067.7 418.8,2071.6 420.9,2075.4 423.0,2079.2 425.0,2083.0 427.1,2086.7 429.2,2090.4 431.2,2094.1 433.3,2097.7 435.4,2101.3 437.5,2104.8 439.5,2108.3 441.6,2111.8 443.7,2115.3 445.7,2118.7 447.8,2122.0 449.9,2125.4 451.9,2128.7 454.0,2132.0 456.1,2135.2 458.1,2138.4 460.2,2141.6 462.3,2144.7 464.4,2147.9 466.4,2150.9 468.5,2154.0 470.6,2157.0 472.6,2160.0 474.7,2163.0 476.8,2165.9 478.8,2168.8 480.9,2171.7 483.0,2174.5 485.1,2177.4 487.1,2180.2 489.2,2182.9 491.3,2185.7 493.3,2188.4 495.4,2191.1 497.5,2193.7 499.5,2196.3 501.6,2198.9 503.7,2201.5 505.7,2204.1 507.8,2206.6 509.9,2209.1 512.0,2211.6 514.0,2214.0 516.1,2216.5 518.2,2218.9 520.2,2221.3 522.3,2223.6 524.4,2225.9 526.4,2228.3 528.5,2230.5 530.6,2232.8 532.7,2235.0 534.7,2237.3 536.8,2239.5 538.9,2241.6 540.9,2243.8 543.0,2245.9 545.1,2248.0 547.1,2250.1 549.2,2252.2 551.3,2254.3 553.3,2256.3 555.4,2258.3 557.5,2260.3 559.6,2262.3 561.6,2264.2 563.7,2266.1 565.8,2268.1 567.8,2270.0 569.9,2271.8 572.0,2273.7 574.0,2275.5 576.1,2277.3 578.2,2279.1 580.3,2280.9 582.3,2282.7 584.4,2284.4 586.5,2286.2 588.5,2287.9 590.6,2289.6 592.7,2291.3 594.7,2292.9 596.8,2294.6 598.9,2296.2 600.9,2297.8 603.0,2299.4 605.1,2301.0 607.2,2302.6 609.2,2304.1 611.3,2305.7 613.4,2307.2 615.4,2308.7 617.5,2310.2 619.6,2311.7 621.6,2313.1 623.7,2314.6 625.8,2316.0 627.9,2317.4 629.9,2318.8 632.0,2320.2 634.1,2321.6 636.1,2322.9 638.2,2324.3 640.3,2325.6 642.3,2327.0 644.4,2328.3 646.5,2329.6 648.5,2330.8 650.6,2332.1 652.7,2333.4 654.8,2334.6 656.8,2335.9 658.9,2337.1 661.0,2338.3 663.0,2339.5 665.1,2340.7 667.2,2341.8 669.2,2343.0 671.3,2344.2 673.4,2345.3 675.5,2346.4 677.5,2347.5 679.6,2348.7 681.7,2349.7 683.7,2350.8 685.8,2351.9 687.9,2353.0 689.9,2354.0 692.0,2355.1 694.1,2356.1 696.1,2357.1 698.2,2358.1 700.3,2359.1 702.4,2360.1 704.4,2361.1 706.5,2362.1 708.6,2363.0 710.6,2364.0 712.7,2364.9 714.8,2365.9 716.8,2366.8 718.9,2367.7 721.0,2368.6 723.1,2369.5 725.1,2370.4 727.2,2371.3 729.3,2372.1 731.3,2373.0 733.4,2373.9 735.5,2374.7 737.5,2375.5 739.6,2376.4 741.7,2377.2 743.7,2378.0 745.8,2378.8 747.9,2379.6 750.0,2380.4 752.0,2381.2 754.1,2381.9 756.2,2382.7 758.2,2383.5 760.3,2384.2 762.4,2385.0 764.4,2385.7 766.5,2386.4 768.6,2387.1 770.6,2387.9 772.7,2388.6 774.8,2389.3 776.9,2390.0 778.9,2390.6 781.0,2391.3 783.1,2392.0 785.1,2392.7 787.2,2393.3 789.3,2394.0 791.3,2394.6 793.4,2395.3 795.5,2395.9 797.6,2396.5 799.6,2397.1 801.7,2397.8 803.8,2398.4 805.8,2399.0 807.9,2399.6 810.0,2400.2 812.0,2400.7 814.1,2401.3 816.2,2401.9 818.2,2402.5 820.3,2403.0 822.4,2403.6 824.5,2404.1 826.5,2404.7 828.6,2405.2 830.7,2405.7 832.7,2406.3 834.8,2406.8 836.9,2407.3 838.9,2407.8 841.0,2408.3 843.1,2408.8 845.2,2409.3 847.2,2409.8 849.3,2410.3 851.4,2410.8 853.4,2411.3 855.5,2411.8 857.6,2412.2 859.6,2412.7 861.7,2413.2 863.8,2413.6 865.8,2414.1 867.9,2414.5 870.0,2415.0 872.1,2415.4 874.1,2415.8 876.2,2416.3 878.3,2416.7 880.3,2417.1 882.4,2417.5 884.5,2417.9 886.5,2418.3 888.6,2418.7 890.7,2419.1 892.8,2419.5 894.8,2419.9 896.9,2420.3 899.0,2420.7 901.0,2421.1 903.1,2421.5 905.2,2421.8 907.2,2422.2 909.3,2422.6 911.4,2422.9 913.4,2423.3 915.5,2423.7 917.6,2424.0 919.7,2424.4 921.7,2424.7 923.8,2425.0 925.9,2425.4 927.9,2425.7 930.0,2426.0 932.1,2426.4 934.1,2426.7 936.2,2427.0 938.3,2427.3 940.4,2427.7 942.4,2428.0 944.5,2428.3 946.6,2428.6 948.6,2428.9 950.7,2429.2 952.8,2429.5 954.8,2429.8 956.9,2430.1 959.0,2430.4 961.0,2430.6 963.1,2430.9 965.2,2431.2 967.3,2431.5 969.3,2431.8 971.4,2432.0 973.5,2432.3 975.5,2432.6 977.6,2432.8 979.7,2433.1 981.7,2433.3 983.8,2433.6 985.9,2433.9 988.0,2434.1 990.0,2434.3 992.1,2434.6 994.2,2434.8 996.2,2435.1 998.3,2435.3 1000.4,2435.6 1002.4,2435.8 1004.5,2436.0 1006.6,2436.2 1008.6,2436.5 1010.7,2436.7 1012.8,2436.9 1014.9,2437.1 1016.9,2437.4 1019.0,2437.6 1021.1,2437.8 1023.1,2438.0 1025.2,2438.2 1027.3,2438.4 1029.3,2438.6 1031.4,2438.8 1033.5,2439.0 1035.6,2439.2 1037.6,2439.4 1039.7,2439.6 1041.8,2439.8 1043.8,2440.0 1045.9,2440.2 1048.0,2440.4 1050.0,2440.6 1052.1,2440.8 1054.2,2440.9 1056.2,2441.1 1058.3,2441.3 1060.4,2441.5 1062.5,2441.7 1064.5,2441.8 1066.6,2442.0 1068.7,2442.2 1070.7,2442.3 1072.8,2442.5 1074.9,2442.7 1076.9,2442.8 1079.0,2443.0 1081.1,2443.2 1083.2,2443.3 1085.2,2443.5 1087.3,2443.6 1089.4,2443.8 1091.4,2443.9 1093.5,2444.1 1095.6,2444.2 1097.6,2444.4 1099.7,2444.5 1101.8,2444.7 1103.8,2444.8 1105.9,2445.0 1108.0,2445.1 1110.1,2445.2 1112.1,2445.4 1114.2,2445.5 1116.3,2445.6 1118.3,2445.8 1120.4,2445.9 1122.5,2446.0 1124.5,2446.2 1126.6,2446.3 1128.7,2446.4 1130.7,2446.6 1132.8,2446.7 1134.9,2446.8 1137.0,2446.9 1139.0,2447.0 1141.1,2447.2 1143.2,2447.3 1145.2,2447.4 1147.3,2447.5 1149.4,2447.6 1151.4,2447.8 1153.5,2447.9 1155.6,2448.0 1157.7,2448.1 1159.7,2448.2 1161.8,2448.3 1163.9,2448.4 1165.9,2448.5 1168.0,2448.6 1170.1,2448.7 1172.1,2448.8 1174.2,2448.9 1176.3,2449.0 1178.3,2449.1 1180.4,2449.2 1182.5,2449.3 1184.6,2449.4 1186.6,2449.5 1188.7,2449.6 1190.8,2449.7 1192.8,2449.8 1194.9,2449.9 1197.0,2450.0 1199.0,2450.1 1201.1,2450.2 1203.2,2450.3 1205.3,2450.4 1207.3,2450.4 1209.4,2450.5 1211.5,2450.6 1213.5,2450.7 1215.6,2450.8 1217.7,2450.9 1219.7,2450.9 1221.8,2451.0 1223.9,2451.1 1225.9,2451.2 1228.0,2451.3 1230.1,2451.3 1232.2,2451.4 1234.2,2451.5 1236.3,2451.6 1238.4,2451.7 1240.4,2451.7 1242.5,2451.8 1244.6,2451.9 1246.6,2451.9 1248.7,2452.0 1250.8,2452.1 1252.9,2452.2 1254.9,2452.2 1257.0,2452.3 1259.1,2452.4 1261.1,2452.4 1263.2,2452.5 1265.3,2452.6 1267.3,2452.6 1269.4,2452.7 1271.5,2452.8 1273.5,2452.8 1275.6,2452.9 1277.7,2452.9 1279.8,2453.0 1281.8,2453.1 1283.9,2453.1 1286.0,2453.2 1288.0,2453.2 1290.1,2453.3 1292.2,2453.4 1294.2,2453.4 1296.3,2453.5 1298.4,2453.5 1300.5,2453.6 1302.5,2453.6 1304.6,2453.7 1306.7,2453.8 1308.7,2453.8 1310.8,2453.9 1312.9,2453.9 1314.9,2454.0 1317.0,2454.0 1319.1,2454.1 1321.1,2454.1 1323.2,2454.2 1325.3,2454.2 1327.4,2454.3 1329.4,2454.3 1331.5,2454.4 1333.6,2454.4 1335.6,2454.5 1337.7,2454.5 1339.8,2454.6 1341.8,2454.6 1343.9,2454.6 1346.0,2454.7 1348.1,2454.7 1350.1,2454.8 1352.2,2454.8 1354.3,2454.9 1356.3,2454.9 1358.4,2454.9 1360.5,2455.0 1362.5,2455.0 1364.6,2455.1 1366.7,2455.1 1368.7,2455.2 1370.8,2455.2 1372.9,2455.2 1375.0,2455.3 1377.0,2455.3 1379.1,2455.3 1381.2,2455.4 1383.2,2455.4 1385.3,2455.5 1387.4,2455.5 1389.4,2455.5 1391.5,2455.6 1393.6,2455.6 1395.7,2455.6 1397.7,2455.7 1399.8,2455.7 1401.9,2455.7 1403.9,2455.8 1406.0,2455.8 1408.1,2455.8 1410.1,2455.9 1412.2,2455.9 1414.3,2455.9 1416.3,2456.0 1418.4,2456.0 1420.5,2456.0 1422.6,2456.1 1424.6,2456.1 1426.7,2456.1 1428.8,2456.2 1430.8,2456.2 1432.9,2456.2 1435.0,2456.2 1437.0,2456.3 1439.1,2456.3 1441.2,2456.3 1443.3,2456.4 1445.3,2456.4 1447.4,2456.4 1449.5,2456.4 1451.5,2456.5 1453.6,2456.5 1455.7,2456.5 1457.7,2456.5 1459.8,2456.6 1461.9,2456.6 1463.9,2456.6 1466.0,2456.6 1468.1,2456.7 1470.2,2456.7 1472.2,2456.7 1474.3,2456.7 1476.4,2456.8 1478.4,2456.8 1480.5,2456.8 1482.6,2456.8 1484.6,2456.9 1486.7,2456.9 1488.8,2456.9 1490.8,2456.9 1492.9,2457.0 1495.0,2457.0 1497.1,2457.0 1499.1,2457.0 1501.2,2457.0 1503.3,2457.1 1505.3,2457.1 1507.4,2457.1 1509.5,2457.1 1511.5,2457.1 1513.6,2457.2 1515.7,2457.2 1517.8,2457.2 1519.8,2457.2 1521.9,2457.2 1524.0,2457.3 1526.0,2457.3 1528.1,2457.3 1530.2,2457.3 1532.2,2457.3 1534.3,2457.4 1536.4,2457.4 1538.4,2457.4 1540.5,2457.4 1542.6,2457.4 1544.7,2457.4 1546.7,2457.5 1548.8,2457.5 1550.9,2457.5 1552.9,2457.5 1555.0,2457.5 1557.1,2457.5 1559.1,2457.6 1561.2,2457.6 1563.3,2457.6 1565.4,2457.6 1567.4,2457.6 1569.5,2457.6 1571.6,2457.6 1573.6,2457.7 1575.7,2457.7 1577.8,2457.7 1579.8,2457.7 1581.9,2457.7 1584.0,2457.7 1586.0,2457.8 1588.1,2457.8 1590.2,2457.8 1592.3,2457.8 1594.3,2457.8 1596.4,2457.8 1598.5,2457.8 1600.5,2457.8 1602.6,2457.9 1604.7,2457.9 1606.7,2457.9 1608.8,2457.9 1610.9,2457.9 1613.0,2457.9 1615.0,2457.9 1617.1,2457.9 1619.2,2458.0 1621.2,2458.0 1623.3,2458.0 1625.4,2458.0 1627.4,2458.0 1629.5,2458.0 1631.6,2458.0 1633.6,2458.0 1635.7,2458.1 1637.8,2458.1 1639.9,2458.1 1641.9,2458.1 1644.0,2458.1 1646.1,2458.1 1648.1,2458.1 1650.2,2458.1 1652.3,2458.1 1654.3,2458.1 1656.4,2458.2 1658.5,2458.2 1660.6,2458.2 1662.6,2458.2 1664.7,2458.2 1666.8,2458.2 1668.8,2458.2 1670.9,2458.2 1673.0,2458.2 1675.0,2458.2 1677.1,2458.3 1679.2,2458.3 1681.2,2458.3 1683.3,2458.3 1685.4,2458.3 1687.5,2458.3 1689.5,2458.3 1691.6,2458.3 1693.7,2458.3 1695.7,2458.3 1697.8,2458.3 1699.9,2458.3 1701.9,2458.4 1704.0,2458.4 1706.1,2458.4 1708.2,2458.4 1710.2,2458.4 1712.3,2458.4 1714.4,2458.4 1716.4,2458.4 1718.5,2458.4 1720.6,2458.4 1722.6,2458.4 1724.7,2458.4 1726.8,2458.4 1728.8,2458.5 1730.9,2458.5 1733.0,2458.5 1735.1,2458.5 1737.1,2458.5 1739.2,2458.5 1741.3,2458.5 1743.3,2458.5 1745.4,2458.5 1747.5,2458.5 1749.5,2458.5 1751.6,2458.5 1753.7,2458.5 1755.8,2458.5 1757.8,2458.5 1759.9,2458.5 1762.0,2458.6 1764.0,2458.6 1766.1,2458.6 1768.2,2458.6 1770.2,2458.6 1772.3,2458.6 1774.4,2458.6 1776.4,2458.6 1778.5,2458.6 1780.6,2458.6" fill="none" stroke="#000000" stroke-width="4.0" stroke-dasharray="8 14.4" stroke-dashoffset="3.21" stroke-linecap="round" clip-path="url(#cb)"/>
<path d="M295.13 1973.26V2011.19" stroke="#ff0000" stroke-width="6.3"/>
<path d="M277.23 1973.26H313.03" stroke="#ff0000" stroke-width="6.6"/>
<path d="M277.23 2011.19H313.03" stroke="#ff0000" stroke-width="6.6"/>
<circle cx="295.13" cy="1992.22" r="17.9" fill="#ff0000"/>
<path d="M359.76 2250.43V2307.41" stroke="#ff0000" stroke-width="6.3"/>
<path d="M341.86 2250.43H377.66" stroke="#ff0000" stroke-width="6.6"/>
<path d="M341.86 2307.41H377.66" stroke="#ff0000" stroke-width="6.6"/>
<circle cx="359.76" cy="2278.92" r="17.9" fill="#ff0000"/>
<circle cx="424.39" cy="2446.00" r="17.9" fill="#ff0000"/>
<path d="M295.13 1520.43V1558.35" stroke="#0000ff" stroke-width="6.3"/>
<path d="M277.23 1520.43H313.03" stroke="#0000ff" stroke-width="6.6"/>
<path d="M277.23 1558.35H313.03" stroke="#0000ff" stroke-width="6.6"/>
<circle cx="295.13" cy="1539.39" r="17.9" fill="#0000ff"/>
<path d="M359.76 2180.15V2237.13" stroke="#0000ff" stroke-width="6.3"/>
<path d="M341.86 2180.15H377.66" stroke="#0000ff" stroke-width="6.6"/>
<path d="M341.86 2237.13H377.66" stroke="#0000ff" stroke-width="6.6"/>
<circle cx="359.76" cy="2208.64" r="17.9" fill="#0000ff"/>
<path d="M424.39 2336.75V2393.74" stroke="#0000ff" stroke-width="6.3"/>
<path d="M406.49 2336.75H442.29" stroke="#0000ff" stroke-width="6.6"/>
<path d="M406.49 2393.74H442.29" stroke="#0000ff" stroke-width="6.6"/>
<circle cx="424.39" cy="2365.24" r="17.9" fill="#0000ff"/>
<circle cx="618.28" cy="2446.00" r="17.9" fill="#0000ff"/>
<circle cx="230.50" cy="1502.60" r="17.9" fill="#000000"/>
<path d="M295.13 1759.77V1797.70" stroke="#000000" stroke-width="6.3"/>
<path d="M277.23 1759.77H313.03" stroke="#000000" stroke-width="6.6"/>
<path d="M277.23 1797.70H313.03" stroke="#000000" stroke-width="6.6"/>
<circle cx="295.13" cy="1778.73" r="17.9" fill="#000000"/>
<path d="M359.76 1881.85V1938.83" stroke="#000000" stroke-width="6.3"/>
<path d="M341.86 1881.85H377.66" stroke="#000000" stroke-width="6.6"/>
<path d="M341.86 1938.83H377.66" stroke="#000000" stroke-width="6.6"/>
<circle cx="359.76" cy="1910.34" r="17.9" fill="#000000"/>
<path d="M424.39 2011.47V2068.45" stroke="#000000" stroke-width="6.3"/>
<path d="M406.49 2011.47H442.29" stroke="#000000" stroke-width="6.6"/>
<path d="M406.49 2068.45H442.29" stroke="#000000" stroke-width="6.6"/>
<circle cx="424.39" cy="2039.96" r="17.9" fill="#000000"/>
<path d="M618.28 2323.55V2380.53" stroke="#000000" stroke-width="6.3"/>
<path d="M600.38 2323.55H636.18" stroke="#000000" stroke-width="6.6"/>
<path d="M600.38 2380.53H636.18" stroke="#000000" stroke-width="6.6"/>
<circle cx="618.28" cy="2352.04" r="17.9" fill="#000000"/>
<path d="M812.17 2417.51V2446.00" stroke="#000000" stroke-width="6.3"/>
<path d="M794.27 2417.51H830.07" stroke="#000000" stroke-width="6.6"/>
<circle cx="812.17" cy="2446.00" r="17.9" fill="#000000"/>
<path d="M1006.06 2417.51V2446.00" stroke="#000000" stroke-width="6.3"/>
<path d="M988.16 2417.51H1023.96" stroke="#000000" stroke-width="6.6"/>
<circle cx="1006.06" cy="2446.00" r="17.9" fill="#000000"/>
<path d="M1393.84 2417.51V2446.00" stroke="#000000" stroke-width="6.3"/>
<path d="M1375.94 2417.51H1411.74" stroke="#000000" stroke-width="6.6"/>
<circle cx="1393.84" cy="2446.00" r="17.9" fill="#000000"/>
<path d="M1781.62 2417.51V2446.00" stroke="#000000" stroke-width="6.3"/>
<path d="M1763.72 2417.51H1799.52" stroke="#000000" stroke-width="6.6"/>
<circle cx="1781.62" cy="2446.00" r="17.9" fill="#000000"/>
<text transform="translate(123.98,1089.80)" font-family="'Liberation Serif', 'Times New Roman', serif" font-size="69" font-weight="bold" fill="#000">0.0</text>
<text transform="translate(124.31,901.50)" font-family="'Liberation Serif', 'Times New Roman', serif" font-size="69" font-weight="bold" fill="#000">0.2</text>
<text transform="translate(122.63,713.20)" font-family="'Liberation Serif', 'Times New Roman', serif" font-size="69" font-weight="bold" fill="#000">0.4</text>
<text transform="translate(123.37,524.90)" font-family="'Liberation Serif', 'Times New Roman', serif" font-size="69" font-weight="bold" fill="#000">0.6</text>
<text transform="translate(123.64,336.60)" font-family="'Liberation Serif', 'Times New Roman', serif" font-size="69" font-weight="bold" fill="#000">0.8</text>
<text transform="translate(123.98,148.30)" font-family="'Liberation Serif', 'Times New Roman', serif" font-size="69" font-weight="bold" fill="#000">1.0</text>
<text transform="translate(210.40,1149.00)" font-family="'Liberation Serif', 'Times New Roman', serif" font-size="70" font-weight="bold" fill="#000">0</text>
<text transform="translate(442.84,1149.00)" font-family="'Liberation Serif', 'Times New Roman', serif" font-size="70" font-weight="bold" fill="#000">20</text>
<text transform="translate(692.78,1149.00)" font-family="'Liberation Serif', 'Times New Roman', serif" font-size="70" font-weight="bold" fill="#000">40</text>
<text transform="translate(942.72,1149.00)" font-family="'Liberation Serif', 'Times New Roman', serif" font-size="70" font-weight="bold" fill="#000">60</text>
<text transform="translate(1192.66,1149.00)" font-family="'Liberation Serif', 'Times New Roman', serif" font-size="70" font-weight="bold" fill="#000">80</text>
<text transform="translate(1425.10,1149.00)" font-family="'Liberation Serif', 'Times New Roman', serif" font-size="70" font-weight="bold" fill="#000">100</text>
<text transform="translate(1675.04,1149.00)" font-family="'Liberation Serif', 'Times New Roman', serif" font-size="70" font-weight="bold" fill="#000">120</text>
<text transform="translate(848.77,1250.00) scale(0.9450,1)" font-family="'Liberation Serif', 'Times New Roman', serif" font-size="76.5" font-weight="bold" fill="#000">Time/ min</text>
<text transform="translate(77.50,758.70) rotate(-90) scale(0.964,1)" font-family="'Liberation Serif', 'Times New Roman', serif" font-size="75.5" font-weight="bold"><tspan dy="3.5">[</tspan><tspan dy="-3.5">CAF</tspan><tspan font-size="57" dy="16.2">f</tspan><tspan dy="-12.7">]</tspan><tspan dy="-3.5">/</tspan><tspan dy="3.5">[</tspan><tspan dy="-3.5">CAF</tspan><tspan font-size="57" dy="16.2">0</tspan><tspan dy="-12.7">]</tspan></text>
<text transform="translate(77.20,2136.10) rotate(-90) scale(0.964,1)" font-family="'Liberation Serif', 'Times New Roman', serif" font-size="75.5" font-weight="bold"><tspan dy="3.5">[</tspan><tspan dy="-3.5">CAF</tspan><tspan font-size="57" dy="16.2">f</tspan><tspan dy="-12.7">]</tspan><tspan dy="-3.5">/</tspan><tspan dy="3.5">[</tspan><tspan dy="-3.5">CAF</tspan><tspan font-size="57" dy="16.2">0</tspan><tspan dy="-12.7">]</tspan></text>
<text transform="translate(1615.94,207.70) scale(1.0300,1)" font-family="'Liberation Serif', 'Times New Roman', serif" font-size="112" font-weight="normal" fill="#000">a</text>
<text transform="translate(1577.00,1545.10)" font-family="'Liberation Serif', 'Times New Roman', serif" font-size="88.5" font-weight="normal" fill="#000">b</text>
<text transform="translate(372.09,221.60)" font-family="'Liberation Serif', 'Times New Roman', serif" font-size="50.2" font-weight="normal" fill="#000000">0.0084 min</text>
<text transform="translate(594.16,201.61)" font-family="'Liberation Serif', 'Times New Roman', serif" font-size="41" font-weight="normal" fill="#000000">&#8722;</text>
<text transform="translate(618.10,200.70) scale(0.7500,1)" font-family="'Liberation Serif', 'Times New Roman', serif" font-size="41" font-weight="normal" fill="#000000">1</text>
<text transform="translate(528.89,610.00)" font-family="'Liberation Serif', 'Times New Roman', serif" font-size="50.2" font-weight="normal" fill="#0000ff">0.11 min</text>
<text transform="translate(698.96,590.71)" font-family="'Liberation Serif', 'Times New Roman', serif" font-size="41" font-weight="normal" fill="#000000">&#8722;</text>
<text transform="translate(724.70,590.70) scale(0.7500,1)" font-family="'Liberation Serif', 'Times New Roman', serif" font-size="41" font-weight="normal" fill="#0000ff">1</text>
<text transform="translate(1015.09,891.60)" font-family="'Liberation Serif', 'Times New Roman', serif" font-size="50.2" font-weight="normal" fill="#ff0000">0.042 min</text>
<text transform="translate(1212.06,871.61)" font-family="'Liberation Serif', 'Times New Roman', serif" font-size="41" font-weight="normal" fill="#ff0000">&#8722;</text>
<text transform="translate(1237.50,870.70) scale(0.7500,1)" font-family="'Liberation Serif', 'Times New Roman', serif" font-size="41" font-weight="normal" fill="#ff0000">1</text>
<text transform="translate(119.57,2472.30) scale(0.9850,1)" font-family="'Liberation Serif', 'Times New Roman', serif" font-size="75.5" font-weight="normal" fill="#000">0.0</text>
<text transform="translate(120.84,2283.62) scale(0.9850,1)" font-family="'Liberation Serif', 'Times New Roman', serif" font-size="75.5" font-weight="normal" fill="#000">0.2</text>
<text transform="translate(117.90,2094.94) scale(0.9850,1)" font-family="'Liberation Serif', 'Times New Roman', serif" font-size="75.5" font-weight="normal" fill="#000">0.4</text>
<text transform="translate(118.96,1906.26) scale(0.9850,1)" font-family="'Liberation Serif', 'Times New Roman', serif" font-size="75.5" font-weight="normal" fill="#000">0.6</text>
<text transform="translate(119.57,1717.58) scale(0.9850,1)" font-family="'Liberation Serif', 'Times New Roman', serif" font-size="75.5" font-weight="normal" fill="#000">0.8</text>
<text transform="translate(119.57,1528.90) scale(0.9850,1)" font-family="'Liberation Serif', 'Times New Roman', serif" font-size="75.5" font-weight="normal" fill="#000">1.0</text>
<text transform="translate(211.62,2532.60)" font-family="'Liberation Serif', 'Times New Roman', serif" font-size="75.5" font-weight="normal" fill="#000">0</text>
<text transform="translate(451.27,2532.60)" font-family="'Liberation Serif', 'Times New Roman', serif" font-size="75.5" font-weight="normal" fill="#000">20</text>
<text transform="translate(709.79,2532.60)" font-family="'Liberation Serif', 'Times New Roman', serif" font-size="75.5" font-weight="normal" fill="#000">40</text>
<text transform="translate(968.31,2532.60)" font-family="'Liberation Serif', 'Times New Roman', serif" font-size="75.5" font-weight="normal" fill="#000">60</text>
<text transform="translate(1226.83,2532.60)" font-family="'Liberation Serif', 'Times New Roman', serif" font-size="75.5" font-weight="normal" fill="#000">80</text>
<text transform="translate(1466.47,2532.60)" font-family="'Liberation Serif', 'Times New Roman', serif" font-size="75.5" font-weight="normal" fill="#000">100</text>
<text transform="translate(1725.00,2532.60)" font-family="'Liberation Serif', 'Times New Roman', serif" font-size="75.5" font-weight="normal" fill="#000">120</text>
<text transform="translate(837.40,2626.90)" font-family="'Liberation Serif', 'Times New Roman', serif" font-size="71.8" font-weight="normal" fill="#000">Time / min.</text>
<text transform="translate(390.84,1724.30)" font-family="'Liberation Serif', 'Times New Roman', serif" font-size="56.8" font-weight="normal" fill="#ff0000">0.076 min</text>
<text transform="translate(611.23,1704.34)" font-family="'Liberation Serif', 'Times New Roman', serif" font-size="43.5" font-weight="normal" fill="#ff0000">&#8722;</text>
<text transform="translate(637.33,1699.60) scale(0.7500,1)" font-family="'Liberation Serif', 'Times New Roman', serif" font-size="43.5" font-weight="normal" fill="#ff0000">1</text>
<text transform="translate(596.44,2246.20)" font-family="'Liberation Serif', 'Times New Roman', serif" font-size="56.8" font-weight="normal" fill="#0000ff">0.17 min</text>
<text transform="translate(789.93,2227.44)" font-family="'Liberation Serif', 'Times New Roman', serif" font-size="43.5" font-weight="normal" fill="#000000">&#8722;</text>
<text transform="translate(815.93,2223.10) scale(0.7500,1)" font-family="'Liberation Serif', 'Times New Roman', serif" font-size="43.5" font-weight="normal" fill="#0000ff">1</text>
</svg>
</body></html>
